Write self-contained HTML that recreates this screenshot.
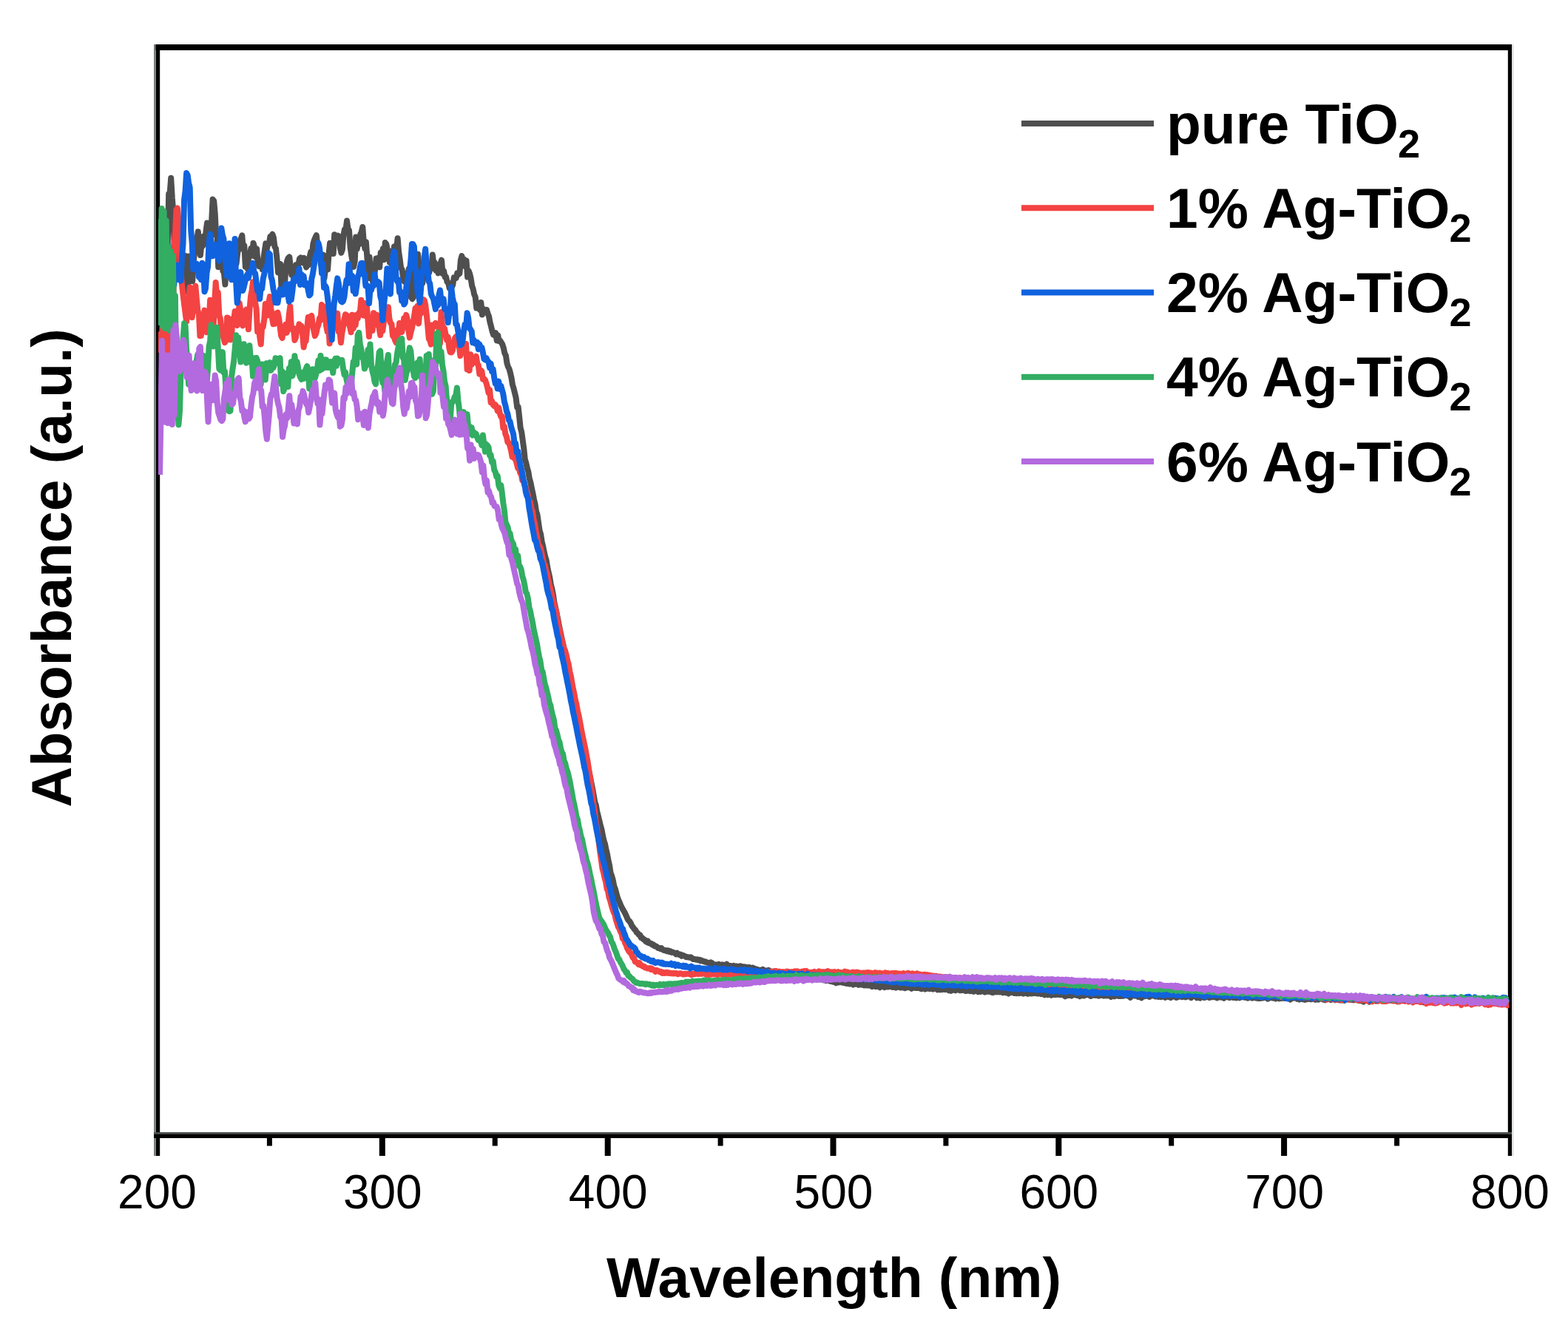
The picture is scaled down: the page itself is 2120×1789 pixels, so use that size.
<!DOCTYPE html>
<html><head><meta charset="utf-8"><title>Absorbance spectra</title>
<style>
html,body{margin:0;padding:0;background:#fff;}
svg{display:block;}
text{font-family:"Liberation Sans",Arial,sans-serif;fill:#000;}
.tl{font-size:64px;}
.tt{font-size:76.7px;font-weight:bold;}
.lg{font-size:76.7px;font-weight:bold;}
.sub{font-size:54px;}
.cv path{fill:none;stroke-width:8;stroke-linejoin:round;stroke-linecap:butt;}
</style></head>
<body>
<svg width="2120" height="1789" viewBox="0 0 2120 1789">
<rect width="2120" height="1789" fill="#fff"/>
<g fill="#000">
<rect x="208" y="60" width="1836" height="8"/>
<rect x="210.6" y="60" width="5.6" height="1503"/>
<rect x="208" y="60" width="2.6" height="1503" fill="#76807f"/>
<rect x="2038.8" y="60" width="5.4" height="1503"/>
<rect x="2044.2" y="60" width="2.4" height="1503" fill="#e2e2e2"/>
<rect x="208" y="1531" width="1836" height="3" fill="#4a4f4b"/>
<rect x="208" y="1533.8" width="1836" height="5.2"/>
<rect x="512.8" y="1534" width="8" height="29"/>
<rect x="817.7" y="1534" width="8" height="29"/>
<rect x="1122.5" y="1534" width="8" height="29"/>
<rect x="1427.3" y="1534" width="8" height="29"/>
<rect x="1732.1" y="1534" width="8" height="29"/>
<rect x="360.9" y="1534" width="7" height="15.5"/>
<rect x="665.7" y="1534" width="7" height="15.5"/>
<rect x="970.6" y="1534" width="7" height="15.5"/>
<rect x="1275.4" y="1534" width="7" height="15.5"/>
<rect x="1580.2" y="1534" width="7" height="15.5"/>
<rect x="1885.1" y="1534" width="7" height="15.5"/>
</g>
<defs><clipPath id="pc"><rect x="214" y="68" width="1826.5" height="1463"/></clipPath></defs>
<g class="cv" clip-path="url(#pc)">
<path d="M216.0,335.0L217.5,332.7L219.0,350.3L220.6,347.6L222.1,341.9L223.6,334.5L225.1,328.4L226.7,328.8L228.2,261.8L229.7,260.9L231.2,240.8L232.8,267.8L234.3,286.0L235.8,338.3L237.3,337.5L238.9,333.5L240.4,350.8L241.9,334.6L243.4,337.9L245.0,334.2L246.5,342.9L248.0,361.4L249.5,351.3L251.1,346.1L252.6,394.1L254.1,382.2L255.6,346.5L257.1,360.8L258.7,362.0L260.2,380.3L261.7,352.8L263.2,340.8L264.8,334.0L266.3,323.8L267.8,313.2L269.3,328.5L270.9,345.0L272.4,330.5L273.9,332.8L275.4,319.6L277.0,328.7L278.5,312.5L280.0,301.5L281.5,331.4L283.1,329.4L284.6,318.5L286.1,299.8L287.6,269.5L289.2,271.7L290.7,288.8L292.2,318.2L293.7,317.2L295.2,361.2L296.8,344.4L298.3,348.9L299.8,338.4L301.3,366.3L302.9,369.1L304.4,384.5L305.9,360.2L307.4,341.6L309.0,349.2L310.5,346.6L312.0,360.3L313.5,358.2L315.1,331.1L316.6,330.8L318.1,342.1L319.6,356.2L321.2,342.1L322.7,335.0L324.2,325.4L325.7,323.1L327.3,318.4L328.8,336.8L330.3,331.8L331.8,360.7L333.3,350.1L334.9,363.5L336.4,343.9L337.9,343.6L339.4,336.0L341.0,345.7L342.5,328.7L344.0,333.8L345.5,347.4L347.1,336.4L348.6,354.8L350.1,359.9L351.6,354.7L353.2,356.7L354.7,364.1L356.2,350.3L357.7,339.7L359.3,329.4L360.8,336.8L362.3,329.2L363.8,329.7L365.4,319.7L366.9,319.1L368.4,316.8L369.9,321.3L371.4,333.6L373.0,336.1L374.5,350.4L376.0,368.4L377.5,361.1L379.1,356.9L380.6,392.0L382.1,380.1L383.6,384.9L385.2,380.9L386.7,359.4L388.2,352.8L389.7,348.9L391.3,347.4L392.8,360.6L394.3,371.8L395.8,366.1L397.4,376.7L398.9,377.2L400.4,357.9L401.9,371.8L403.5,357.2L405.0,349.7L406.5,348.6L408.0,352.5L409.5,355.1L411.1,348.9L412.6,357.0L414.1,361.4L415.6,358.2L417.2,358.1L418.7,347.1L420.2,340.8L421.7,347.0L423.3,330.0L424.8,324.8L426.3,321.3L427.8,318.1L429.4,332.0L430.9,343.4L432.4,345.7L433.9,358.0L435.5,347.8L437.0,344.6L438.5,376.0L440.0,362.7L441.6,347.9L443.1,364.6L444.6,342.8L446.1,328.8L447.6,335.2L449.2,328.8L450.7,343.1L452.2,317.2L453.7,325.3L455.3,318.9L456.8,318.5L458.3,319.7L459.8,335.3L461.4,341.8L462.9,337.4L464.4,318.1L465.9,310.5L467.5,310.7L469.0,298.5L470.5,309.3L472.0,311.3L473.6,334.5L475.1,345.0L476.6,354.1L478.1,360.9L479.7,353.5L481.2,320.4L482.7,336.7L484.2,329.1L485.7,330.2L487.3,316.6L488.8,313.3L490.3,307.0L491.8,327.0L493.4,336.0L494.9,327.3L496.4,348.8L497.9,376.0L499.5,347.5L501.0,368.3L502.5,375.8L504.0,380.9L505.6,377.2L507.1,364.4L508.6,349.6L510.1,351.5L511.7,348.7L513.2,361.4L514.7,341.8L516.2,342.8L517.8,336.4L519.3,351.2L520.8,328.0L522.3,330.1L523.8,337.9L525.4,342.2L526.9,354.9L528.4,339.7L529.9,356.0L531.5,350.4L533.0,333.2L534.5,332.6L536.0,337.8L537.6,322.2L539.1,340.4L540.6,350.3L542.1,362.0L543.7,364.8L545.2,376.2L546.7,380.8L548.2,378.9L549.8,370.9L551.3,370.3L552.8,363.6L554.3,395.5L555.9,402.2L557.4,404.2L558.9,402.2L560.4,363.1L561.9,373.6L563.5,372.1L565.0,343.7L566.5,359.3L568.0,379.0L569.6,373.3L571.1,383.3L572.6,375.0L574.1,363.1L575.7,363.6L577.2,366.9L578.7,365.4L580.2,368.9L581.8,362.0L583.3,363.1L584.8,344.6L586.3,355.8L587.9,355.4L589.4,365.8L590.9,363.7L592.4,369.3L594.0,359.9L595.5,356.4L597.0,351.7L598.5,369.8L600.0,366.2L601.6,374.6L603.1,374.6L604.6,381.5L606.1,382.3L607.7,390.0L609.2,390.3L610.7,388.6L612.2,385.4L613.8,375.2L615.3,376.3L616.8,376.0L618.3,369.2L619.9,371.2L621.4,369.8L622.9,351.7L624.4,346.1L626.0,355.8L627.5,350.6L629.0,360.1L630.5,352.4L632.1,374.6L633.6,366.1L635.1,370.2L636.6,376.3L638.1,386.4L639.7,391.0L641.2,398.2L642.7,401.6L644.2,416.5L645.8,409.6L647.3,416.9L648.8,419.0L650.3,409.0L651.9,425.4L653.4,417.6L654.9,420.9L656.4,422.1L658.0,418.8L659.5,424.0L661.0,427.8L662.5,435.7L664.1,441.8L665.6,448.3L667.1,452.6L668.6,449.8L670.2,450.2L671.7,460.5L673.2,453.3L674.7,461.2L676.2,460.5L677.8,463.1L679.3,465.8L680.8,470.4L682.3,477.5L683.9,480.7L685.4,490.9L686.9,495.9L688.4,498.6L690.0,504.4L691.5,511.0L693.0,520.3L694.5,525.2L696.1,531.7L697.6,537.9L699.1,550.5L700.6,550.0L702.2,564.3L703.7,578.8L705.2,584.3L706.7,595.3L708.3,607.0L709.8,621.3L711.3,626.0L712.8,633.0L714.3,637.8L715.9,647.3L717.4,652.5L718.9,660.2L720.4,667.2L722.0,675.3L723.5,681.7L725.0,691.6L726.5,696.1L728.1,707.2L729.6,717.6L731.1,722.3L732.6,732.2L734.2,738.7L735.7,746.5L737.2,752.9L738.7,757.7L740.3,767.6L741.8,774.5L743.3,780.9L744.8,790.5L746.4,796.6L747.9,804.3L749.4,814.4L750.9,821.1L752.4,828.3L754.0,835.8L755.5,844.0L757.0,851.2L758.5,858.3L760.1,866.0L761.6,872.6L763.1,880.9L764.6,887.9L766.2,895.0L767.7,901.0L769.2,908.6L770.7,916.9L772.3,923.1L773.8,930.7L775.3,935.1L776.8,943.0L778.4,953.2L779.9,959.5L781.4,968.6L782.9,975.2L784.5,982.8L786.0,990.4L787.5,996.7L789.0,1007.2L790.5,1012.7L792.1,1022.1L793.6,1029.1L795.1,1037.1L796.6,1045.4L798.2,1051.7L799.7,1059.9L801.2,1067.1L802.7,1075.5L804.3,1084.7L805.8,1088.9L807.3,1097.5L808.8,1103.2L810.4,1109.9L811.9,1116.5L813.4,1121.5L814.9,1129.7L816.5,1136.8L818.0,1141.2L819.5,1149.0L821.0,1155.0L822.6,1163.9L824.1,1170.2L825.6,1180.6L827.1,1184.3L828.6,1189.5L830.2,1197.8L831.7,1201.8L833.2,1207.3L834.7,1212.8L836.3,1217.2L837.8,1220.5L839.3,1224.2L840.8,1227.2L842.4,1230.3L843.9,1232.8L845.4,1235.5L846.9,1238.8L848.5,1242.6L850.0,1245.0L851.5,1246.1L853.0,1248.8L854.6,1252.4L856.1,1254.0L857.6,1256.6L859.1,1257.5L860.7,1260.7L862.2,1261.8L863.7,1264.0L865.2,1264.0L866.7,1268.0L868.3,1268.1L869.8,1270.1L871.3,1270.4L872.8,1272.7L874.4,1274.0L875.9,1272.6L877.4,1275.3L878.9,1275.8L880.5,1275.7L882.0,1277.7L883.5,1277.3L885.0,1279.4L886.6,1279.3L888.1,1280.2L889.6,1282.0L891.1,1281.7L892.7,1283.1L894.2,1282.1L895.7,1283.7L897.2,1284.9L898.8,1285.2L900.3,1285.1L901.8,1286.2L903.3,1285.3L904.8,1286.9L906.4,1286.2L907.9,1287.9L909.4,1287.5L910.9,1288.1L912.5,1288.9L914.0,1290.3L915.5,1288.8L917.0,1290.1L918.6,1291.2L920.1,1290.6L921.6,1292.7L923.1,1291.7L924.7,1292.5L926.2,1293.0L927.7,1294.3L929.2,1293.9L930.8,1294.5L932.3,1294.8L933.8,1294.2L935.3,1295.4L936.9,1297.0L938.4,1296.7L939.9,1297.2L941.4,1297.7L942.9,1297.3L944.5,1298.5L946.0,1297.9L947.5,1299.4L949.0,1298.8L950.6,1299.8L952.1,1300.4L953.6,1300.3L955.1,1301.4L956.7,1301.5L958.2,1301.9L959.7,1302.9L961.2,1301.4L962.8,1302.3L964.3,1303.9L965.8,1304.1L967.3,1305.1L968.9,1304.3L970.4,1304.8L971.9,1303.8L973.4,1305.3L975.0,1305.0L976.5,1304.3L978.0,1304.8L979.5,1305.3L981.0,1305.6L982.6,1303.7L984.1,1306.3L985.6,1305.8L987.1,1305.9L988.7,1306.4L990.2,1306.5L991.7,1305.8L993.2,1307.1L994.8,1306.5L996.3,1306.4L997.8,1307.4L999.3,1308.0L1000.9,1306.3L1002.4,1306.9L1003.9,1306.9L1005.4,1309.3L1007.0,1307.4L1008.5,1308.4L1010.0,1308.0L1011.5,1308.3L1013.1,1307.9L1014.6,1309.6L1016.1,1309.4L1017.6,1308.5L1019.1,1309.6L1020.7,1309.8L1022.2,1310.5L1023.7,1310.7L1025.2,1311.5L1026.8,1311.7L1028.3,1311.8L1029.8,1312.2L1031.3,1310.9L1032.9,1312.0L1034.4,1313.0L1035.9,1312.5L1037.4,1312.8L1039.0,1311.8L1040.5,1312.5L1042.0,1314.1L1043.5,1313.7L1045.1,1313.7L1046.6,1313.9L1048.1,1313.3L1049.6,1315.1L1051.2,1315.2L1052.7,1315.8L1054.2,1315.0L1055.7,1315.4L1057.2,1315.0L1058.8,1316.8L1060.3,1316.9L1061.8,1315.7L1063.3,1316.9L1064.9,1316.7L1066.4,1316.7L1067.9,1315.8L1069.4,1317.6L1071.0,1318.0L1072.5,1316.9L1074.0,1317.9L1075.5,1316.4L1077.1,1319.9L1078.6,1318.7L1080.1,1319.1L1081.6,1319.0L1083.2,1319.1L1084.7,1319.7L1086.2,1319.7L1087.7,1320.0L1089.3,1320.4L1090.8,1320.8L1092.3,1321.9L1093.8,1320.1L1095.3,1322.0L1096.9,1321.3L1098.4,1321.5L1099.9,1321.1L1101.4,1323.4L1103.0,1322.1L1104.5,1323.0L1106.0,1323.8L1107.5,1323.0L1109.1,1324.2L1110.6,1324.2L1112.1,1325.1L1113.6,1325.3L1115.2,1324.5L1116.7,1326.1L1118.2,1325.4L1119.7,1326.1L1121.3,1326.0L1122.8,1327.0L1124.3,1325.9L1125.8,1327.5L1127.4,1327.9L1128.9,1327.3L1130.4,1329.2L1131.9,1327.2L1133.4,1328.6L1135.0,1328.0L1136.5,1328.3L1138.0,1328.1L1139.5,1328.7L1141.1,1329.0L1142.6,1328.6L1144.1,1329.9L1145.6,1330.1L1147.2,1328.4L1148.7,1330.5L1150.2,1329.7L1151.7,1330.2L1153.3,1331.6L1154.8,1330.6L1156.3,1330.5L1157.8,1330.7L1159.4,1329.4L1160.9,1331.7L1162.4,1330.3L1163.9,1331.5L1165.5,1331.3L1167.0,1332.0L1168.5,1332.6L1170.0,1332.0L1171.5,1332.6L1173.1,1331.7L1174.6,1332.6L1176.1,1332.7L1177.6,1331.5L1179.2,1334.1L1180.7,1331.9L1182.2,1332.4L1183.7,1334.2L1185.3,1334.1L1186.8,1332.5L1188.3,1333.1L1189.8,1335.3L1191.4,1333.0L1192.9,1332.5L1194.4,1333.6L1195.9,1335.0L1197.5,1333.8L1199.0,1334.3L1200.5,1334.6L1202.0,1334.3L1203.6,1333.9L1205.1,1333.4L1206.6,1334.9L1208.1,1333.6L1209.6,1334.7L1211.2,1335.6L1212.7,1334.7L1214.2,1334.8L1215.7,1334.9L1217.3,1335.4L1218.8,1335.5L1220.3,1334.2L1221.8,1335.6L1223.4,1336.2L1224.9,1335.6L1226.4,1334.9L1227.9,1335.3L1229.5,1334.4L1231.0,1335.6L1232.5,1336.8L1234.0,1335.5L1235.6,1335.5L1237.1,1335.8L1238.6,1336.1L1240.1,1336.1L1241.7,1336.1L1243.2,1335.9L1244.7,1336.9L1246.2,1337.3L1247.7,1336.0L1249.3,1336.5L1250.8,1337.5L1252.3,1335.6L1253.8,1336.8L1255.4,1336.7L1256.9,1337.2L1258.4,1336.8L1259.9,1336.7L1261.5,1337.6L1263.0,1336.4L1264.5,1336.5L1266.0,1336.4L1267.6,1338.3L1269.1,1336.2L1270.6,1338.4L1272.1,1338.0L1273.7,1338.3L1275.2,1337.6L1276.7,1337.7L1278.2,1338.2L1279.8,1337.7L1281.3,1337.5L1282.8,1339.3L1284.3,1337.4L1285.8,1339.8L1287.4,1338.4L1288.9,1338.3L1290.4,1339.0L1291.9,1339.4L1293.5,1337.6L1295.0,1338.6L1296.5,1338.3L1298.0,1339.3L1299.6,1339.2L1301.1,1339.1L1302.6,1338.7L1304.1,1339.1L1305.7,1340.2L1307.2,1339.9L1308.7,1339.4L1310.2,1338.7L1311.8,1340.3L1313.3,1339.7L1314.8,1340.0L1316.3,1341.0L1317.9,1340.2L1319.4,1339.3L1320.9,1339.6L1322.4,1341.2L1323.9,1340.0L1325.5,1341.0L1327.0,1340.1L1328.5,1339.9L1330.0,1340.9L1331.6,1341.6L1333.1,1340.6L1334.6,1340.0L1336.1,1340.9L1337.7,1340.6L1339.2,1341.2L1340.7,1341.7L1342.2,1342.3L1343.8,1341.0L1345.3,1341.0L1346.8,1341.5L1348.3,1341.4L1349.9,1341.2L1351.4,1341.6L1352.9,1341.6L1354.4,1340.8L1356.0,1342.3L1357.5,1341.3L1359.0,1341.3L1360.5,1342.4L1362.0,1341.5L1363.6,1343.4L1365.1,1342.0L1366.6,1342.2L1368.1,1341.7L1369.7,1342.2L1371.2,1343.0L1372.7,1341.7L1374.2,1343.2L1375.8,1340.8L1377.3,1343.3L1378.8,1343.0L1380.3,1342.8L1381.9,1342.7L1383.4,1343.6L1384.9,1342.1L1386.4,1342.5L1388.0,1343.3L1389.5,1343.9L1391.0,1343.2L1392.5,1343.1L1394.1,1343.6L1395.6,1343.6L1397.1,1342.5L1398.6,1341.8L1400.1,1343.3L1401.7,1342.6L1403.2,1343.6L1404.7,1342.9L1406.2,1343.4L1407.8,1344.3L1409.3,1343.9L1410.8,1344.0L1412.3,1345.3L1413.9,1343.4L1415.4,1344.1L1416.9,1345.2L1418.4,1343.2L1420.0,1343.5L1421.5,1345.7L1423.0,1344.4L1424.5,1345.1L1426.1,1345.0L1427.6,1345.3L1429.1,1344.2L1430.6,1344.9L1432.2,1344.0L1433.7,1345.3L1435.2,1345.1L1436.7,1344.7L1438.2,1345.7L1439.8,1347.2L1441.3,1343.7L1442.8,1346.3L1444.3,1345.6L1445.9,1346.0L1447.4,1344.5L1448.9,1346.5L1450.4,1345.5L1452.0,1345.3L1453.5,1345.2L1455.0,1345.7L1456.5,1346.1L1458.1,1346.0L1459.6,1347.2L1461.1,1344.9L1462.6,1346.3L1464.2,1345.1L1465.7,1346.5L1467.2,1345.6L1468.7,1345.4L1470.3,1344.9L1471.8,1345.5L1473.3,1346.2L1474.8,1347.0L1476.3,1346.2L1477.9,1345.0L1479.4,1345.9L1480.9,1346.1L1482.4,1345.9L1484.0,1346.2L1485.5,1346.7L1487.0,1346.1L1488.5,1345.6L1490.1,1344.9L1491.6,1346.4L1493.1,1344.9L1494.6,1346.5L1496.2,1346.5L1497.7,1345.2L1499.2,1346.6L1500.7,1346.0L1502.3,1348.0L1503.8,1346.3L1505.3,1345.0L1506.8,1347.3L1508.4,1346.6L1509.9,1346.3L1511.4,1346.3L1512.9,1347.1L1514.4,1347.0L1516.0,1346.9L1517.5,1345.8L1519.0,1346.8L1520.5,1345.5L1522.1,1346.0L1523.6,1346.6L1525.1,1346.0L1526.6,1346.8L1528.2,1348.9L1529.7,1346.7L1531.2,1346.3L1532.7,1345.4L1534.3,1346.7L1535.8,1345.9L1537.3,1345.5L1538.8,1348.0L1540.4,1346.3L1541.9,1347.6L1543.4,1349.3L1544.9,1346.6L1546.5,1347.3L1548.0,1347.3L1549.5,1346.8L1551.0,1346.5L1552.5,1347.1L1554.1,1348.0L1555.6,1346.6L1557.1,1346.2L1558.6,1346.4L1560.2,1346.5L1561.7,1347.4L1563.2,1347.5L1564.7,1347.5L1566.3,1348.1L1567.8,1346.8L1569.3,1348.1L1570.8,1347.3L1572.4,1347.8L1573.9,1345.6L1575.4,1348.8L1576.9,1345.6L1578.5,1346.9L1580.0,1348.1L1581.5,1346.8L1583.0,1349.0L1584.6,1347.0L1586.1,1346.7L1587.6,1347.8L1589.1,1347.0L1590.6,1348.9L1592.2,1348.4L1593.7,1347.8L1595.2,1347.0L1596.7,1347.7L1598.3,1348.3L1599.8,1346.6L1601.3,1347.1L1602.8,1348.4L1604.4,1347.9L1605.9,1347.3L1607.4,1347.5L1608.9,1346.0L1610.5,1349.1L1612.0,1347.1L1613.5,1346.6L1615.0,1347.0L1616.6,1347.1L1618.1,1349.3L1619.6,1347.8L1621.1,1346.5L1622.7,1349.6L1624.2,1348.3L1625.7,1346.7L1627.2,1345.8L1628.7,1349.2L1630.3,1346.8L1631.8,1347.9L1633.3,1347.3L1634.8,1349.0L1636.4,1348.7L1637.9,1348.3L1639.4,1347.6L1640.9,1348.2L1642.5,1348.3L1644.0,1346.4L1645.5,1349.4L1647.0,1347.2L1648.6,1348.4L1650.1,1347.9L1651.6,1348.7L1653.1,1348.6L1654.7,1349.7L1656.2,1347.1L1657.7,1347.4L1659.2,1348.3L1660.8,1347.4L1662.3,1349.0L1663.8,1347.1L1665.3,1348.5L1666.8,1348.9L1668.4,1348.9L1669.9,1348.2L1671.4,1349.5L1672.9,1349.0L1674.5,1346.6L1676.0,1349.2L1677.5,1348.3L1679.0,1348.2L1680.6,1348.0L1682.1,1348.7L1683.6,1348.8L1685.1,1348.7L1686.7,1349.8L1688.2,1349.2L1689.7,1348.0L1691.2,1348.2L1692.8,1349.6L1694.3,1347.8L1695.8,1349.2L1697.3,1349.1L1698.9,1349.7L1700.4,1349.1L1701.9,1350.1L1703.4,1348.1L1704.9,1349.8L1706.5,1348.1L1708.0,1349.5L1709.5,1349.1L1711.0,1348.3L1712.6,1347.0L1714.1,1350.7L1715.6,1349.1L1717.1,1349.4L1718.7,1348.6L1720.2,1349.2L1721.7,1349.8L1723.2,1349.2L1724.8,1350.5L1726.3,1349.2L1727.8,1348.7L1729.3,1350.3L1730.9,1348.7L1732.4,1350.0L1733.9,1347.7L1735.4,1349.8L1737.0,1350.1L1738.5,1348.9L1740.0,1349.9L1741.5,1350.2L1743.0,1349.7L1744.6,1351.5L1746.1,1349.0L1747.6,1349.9L1749.1,1349.7L1750.7,1348.0L1752.2,1349.0L1753.7,1350.8L1755.2,1349.5L1756.8,1351.6L1758.3,1349.5L1759.8,1350.1L1761.3,1351.2L1762.9,1350.1L1764.4,1351.8L1765.9,1348.7L1767.4,1351.2L1769.0,1350.7L1770.5,1350.8L1772.0,1351.4L1773.5,1351.1L1775.1,1350.3L1776.6,1350.0L1778.1,1351.7L1779.6,1350.2L1781.1,1351.6L1782.7,1351.7L1784.2,1350.5L1785.7,1349.8L1787.2,1350.7L1788.8,1351.6L1790.3,1350.3L1791.8,1352.2L1793.3,1350.5L1794.9,1351.1L1796.4,1350.2L1797.9,1351.1L1799.4,1352.1L1801.0,1350.3L1802.5,1350.9L1804.0,1350.3L1805.5,1352.2L1807.1,1349.2L1808.6,1351.1L1810.1,1352.2L1811.6,1352.5L1813.2,1350.7L1814.7,1352.5L1816.2,1348.8L1817.7,1352.9L1819.2,1351.2L1820.8,1350.1L1822.3,1349.9L1823.8,1351.4L1825.3,1351.8L1826.9,1351.9L1828.4,1351.6L1829.9,1352.4L1831.4,1352.2L1833.0,1350.0L1834.5,1351.8L1836.0,1351.1L1837.5,1353.1L1839.1,1350.9L1840.6,1353.2L1842.1,1351.5L1843.6,1354.6L1845.2,1351.1L1846.7,1352.2L1848.2,1351.8L1849.7,1352.2L1851.3,1354.7L1852.8,1350.7L1854.3,1351.5L1855.8,1352.0L1857.3,1352.9L1858.9,1350.8L1860.4,1353.5L1861.9,1352.6L1863.4,1351.8L1865.0,1352.0L1866.5,1351.4L1868.0,1352.2L1869.5,1351.3L1871.1,1354.0L1872.6,1353.6L1874.1,1351.5L1875.6,1352.5L1877.2,1350.1L1878.7,1352.4L1880.2,1352.7L1881.7,1352.6L1883.3,1352.5L1884.8,1353.4L1886.3,1352.2L1887.8,1352.0L1889.4,1354.4L1890.9,1349.6L1892.4,1352.0L1893.9,1351.8L1895.4,1351.8L1897.0,1351.8L1898.5,1352.5L1900.0,1351.7L1901.5,1352.7L1903.1,1353.2L1904.6,1352.4L1906.1,1352.8L1907.6,1351.4L1909.2,1351.6L1910.7,1352.6L1912.2,1353.8L1913.7,1352.8L1915.3,1354.0L1916.8,1353.5L1918.3,1353.8L1919.8,1351.4L1921.4,1354.7L1922.9,1353.1L1924.4,1355.2L1925.9,1352.8L1927.5,1353.2L1929.0,1352.6L1930.5,1353.1L1932.0,1350.7L1933.5,1353.2L1935.1,1352.8L1936.6,1354.2L1938.1,1351.7L1939.6,1353.5L1941.2,1355.1L1942.7,1351.7L1944.2,1354.4L1945.7,1351.9L1947.3,1353.2L1948.8,1353.6L1950.3,1354.0L1951.8,1352.2L1953.4,1352.1L1954.9,1355.3L1956.4,1352.7L1957.9,1354.3L1959.5,1354.0L1961.0,1353.9L1962.5,1352.6L1964.0,1353.2L1965.6,1351.2L1967.1,1354.1L1968.6,1352.4L1970.1,1353.5L1971.6,1355.6L1973.2,1353.5L1974.7,1353.3L1976.2,1351.6L1977.7,1354.8L1979.3,1354.9L1980.8,1351.9L1982.3,1354.4L1983.8,1352.4L1985.4,1353.5L1986.9,1352.9L1988.4,1351.5L1989.9,1353.4L1991.5,1351.4L1993.0,1356.0L1994.5,1354.2L1996.0,1353.4L1997.6,1354.0L1999.1,1353.5L2000.6,1353.9L2002.1,1353.8L2003.7,1353.3L2005.2,1353.5L2006.7,1351.9L2008.2,1352.9L2009.7,1353.1L2011.3,1354.2L2012.8,1353.1L2014.3,1356.5L2015.8,1352.7L2017.4,1353.6L2018.9,1354.4L2020.4,1355.0L2021.9,1356.0L2023.5,1354.5L2025.0,1352.9L2026.5,1353.9L2028.0,1355.3L2029.6,1353.8L2031.1,1355.0L2032.6,1353.5L2034.1,1356.3L2035.7,1355.3L2037.2,1355.1L2038.7,1353.9" stroke="#4f4f4f"/>
<path d="M214.0,455.0L215.5,473.0L217.0,451.8L218.6,467.5L220.1,424.3L221.6,470.3L223.1,424.3L224.7,475.2L226.2,442.5L227.7,478.3L229.2,447.1L230.8,472.8L232.3,440.1L233.8,459.5L235.3,332.1L236.9,317.3L238.4,283.8L239.9,281.5L241.4,300.4L243.0,335.7L244.5,369.9L246.0,385.3L247.5,398.6L249.1,411.8L250.6,423.1L252.1,434.8L253.6,416.8L255.1,404.5L256.7,388.5L258.2,418.7L259.7,429.2L261.2,417.3L262.8,397.1L264.3,386.7L265.8,404.2L267.3,419.8L268.9,424.5L270.4,454.3L271.9,453.9L273.4,433.8L275.0,431.2L276.5,419.6L278.0,440.6L279.5,449.2L281.1,435.2L282.6,435.0L284.1,405.7L285.6,417.4L287.2,431.4L288.7,439.3L290.2,408.1L291.7,382.0L293.2,401.0L294.8,395.4L296.3,426.3L297.8,430.5L299.3,448.9L300.9,451.0L302.4,457.5L303.9,463.2L305.4,461.0L307.0,429.5L308.5,429.8L310.0,437.6L311.5,459.5L313.1,452.8L314.6,431.3L316.1,433.4L317.6,421.0L319.2,438.3L320.7,439.9L322.2,428.0L323.7,410.0L325.3,419.6L326.8,434.2L328.3,440.4L329.8,423.5L331.3,421.6L332.9,418.8L334.4,428.7L335.9,445.3L337.4,419.3L339.0,400.7L340.5,392.9L342.0,381.3L343.5,399.2L345.1,409.1L346.6,417.2L348.1,448.6L349.6,440.5L351.2,455.5L352.7,465.4L354.2,441.0L355.7,442.2L357.3,431.7L358.8,410.9L360.3,419.1L361.8,426.5L363.4,408.8L364.9,401.1L366.4,417.1L367.9,429.8L369.4,438.2L371.0,438.1L372.5,431.6L374.0,423.4L375.5,422.7L377.1,430.4L378.6,442.2L380.1,453.9L381.6,457.1L383.2,445.2L384.7,444.3L386.2,438.8L387.7,449.9L389.3,442.6L390.8,425.5L392.3,414.1L393.8,442.2L395.4,445.9L396.9,444.0L398.4,460.0L399.9,456.6L401.5,444.9L403.0,445.5L404.5,438.3L406.0,442.4L407.5,440.9L409.1,452.0L410.6,469.5L412.1,460.6L413.6,461.2L415.2,444.9L416.7,428.9L418.2,436.7L419.7,428.0L421.3,427.0L422.8,439.3L424.3,447.2L425.8,454.1L427.4,450.8L428.9,443.4L430.4,439.5L431.9,430.5L433.5,433.2L435.0,412.1L436.5,413.8L438.0,426.1L439.6,418.3L441.1,440.8L442.6,448.6L444.1,438.8L445.6,464.6L447.2,450.3L448.7,451.6L450.2,441.4L451.7,439.9L453.3,434.5L454.8,426.7L456.3,423.8L457.8,448.4L459.4,447.5L460.9,463.2L462.4,450.4L463.9,442.1L465.5,431.4L467.0,425.2L468.5,426.0L470.0,431.2L471.6,438.2L473.1,441.7L474.6,449.3L476.1,425.7L477.7,444.3L479.2,439.5L480.7,439.3L482.2,425.7L483.7,430.7L485.3,422.9L486.8,422.7L488.3,405.8L489.8,418.7L491.4,426.4L492.9,409.9L494.4,427.2L495.9,414.2L497.5,434.0L499.0,455.0L500.5,429.3L502.0,447.1L503.6,447.0L505.1,423.2L506.6,439.5L508.1,430.8L509.7,425.8L511.2,436.0L512.7,443.6L514.2,453.1L515.8,436.7L517.3,447.5L518.8,436.4L520.3,426.5L521.8,419.3L523.4,422.2L524.9,415.2L526.4,431.1L527.9,436.6L529.5,438.4L531.0,454.2L532.5,454.8L534.0,459.9L535.6,463.3L537.1,446.4L538.6,451.2L540.1,436.9L541.7,438.9L543.2,449.2L544.7,442.1L546.2,430.3L547.8,437.0L549.3,425.9L550.8,432.5L552.3,446.5L553.9,456.5L555.4,449.4L556.9,444.0L558.4,435.8L559.9,428.6L561.5,417.0L563.0,430.8L564.5,413.7L566.0,437.5L567.6,419.3L569.1,423.9L570.6,420.4L572.1,404.9L573.7,406.0L575.2,411.9L576.7,424.9L578.2,439.7L579.8,458.2L581.3,460.0L582.8,465.7L584.3,439.5L585.9,442.7L587.4,440.3L588.9,436.9L590.4,438.1L592.0,439.8L593.5,443.6L595.0,464.4L596.5,422.0L598.0,441.1L599.6,442.3L601.1,444.5L602.6,452.2L604.1,459.8L605.7,455.8L607.2,469.4L608.7,476.3L610.2,476.6L611.8,474.3L613.3,465.2L614.8,457.9L616.3,455.4L617.9,461.1L619.4,464.7L620.9,469.8L622.4,481.1L624.0,473.8L625.5,473.4L627.0,472.3L628.5,472.3L630.1,465.0L631.6,499.6L633.1,492.0L634.6,501.0L636.1,479.2L637.7,493.3L639.2,486.0L640.7,488.1L642.2,489.8L643.8,481.9L645.3,491.8L646.8,493.9L648.3,505.7L649.9,500.5L651.4,502.1L652.9,512.6L654.4,512.0L656.0,514.0L657.5,518.3L659.0,523.7L660.5,530.8L662.1,527.1L663.6,544.1L665.1,542.1L666.6,547.1L668.2,549.0L669.7,547.2L671.2,549.6L672.7,555.6L674.2,551.3L675.8,559.0L677.3,563.4L678.8,563.2L680.3,578.6L681.9,576.7L683.4,587.2L684.9,590.5L686.4,597.9L688.0,598.9L689.5,603.2L691.0,609.1L692.5,617.6L694.1,615.9L695.6,620.1L697.1,621.4L698.6,626.5L700.2,633.0L701.7,632.8L703.2,639.5L704.7,641.6L706.3,649.8L707.8,651.1L709.3,656.7L710.8,659.3L712.3,664.3L713.9,670.1L715.4,679.1L716.9,679.0L718.4,687.3L720.0,691.6L721.5,702.7L723.0,707.7L724.5,717.6L726.1,725.3L727.6,735.1L729.1,738.0L730.6,740.1L732.2,747.1L733.7,754.8L735.2,762.1L736.7,764.0L738.3,771.4L739.8,775.5L741.3,783.6L742.8,790.7L744.4,796.5L745.9,803.4L747.4,810.6L748.9,815.5L750.4,821.7L752.0,825.9L753.5,836.3L755.0,846.2L756.5,850.5L758.1,860.1L759.6,864.5L761.1,871.0L762.6,876.5L764.2,880.2L765.7,885.8L767.2,892.9L768.7,897.8L770.3,908.2L771.8,913.9L773.3,922.7L774.8,931.1L776.4,938.4L777.9,946.4L779.4,952.3L780.9,961.2L782.5,967.7L784.0,975.4L785.5,983.7L787.0,991.8L788.5,999.1L790.1,1006.7L791.6,1013.5L793.1,1022.3L794.6,1030.0L796.2,1040.5L797.7,1049.5L799.2,1062.8L800.7,1072.8L802.3,1087.1L803.8,1095.7L805.3,1108.8L806.8,1118.9L808.4,1129.2L809.9,1140.9L811.4,1152.9L812.9,1163.2L814.5,1174.6L816.0,1179.9L817.5,1187.1L819.0,1192.4L820.6,1202.1L822.1,1205.3L823.6,1213.7L825.1,1217.9L826.6,1223.8L828.2,1229.1L829.7,1233.4L831.2,1236.5L832.7,1243.4L834.3,1248.1L835.8,1253.2L837.3,1255.6L838.8,1259.7L840.4,1262.3L841.9,1269.3L843.4,1270.1L844.9,1274.6L846.5,1277.8L848.0,1282.2L849.5,1284.9L851.0,1287.3L852.6,1288.7L854.1,1291.0L855.6,1294.9L857.1,1295.8L858.7,1300.4L860.2,1301.1L861.7,1301.7L863.2,1304.0L864.7,1302.3L866.3,1305.2L867.8,1305.6L869.3,1306.8L870.8,1306.7L872.4,1308.5L873.9,1308.9L875.4,1309.5L876.9,1309.3L878.5,1309.1L880.0,1310.9L881.5,1309.8L883.0,1311.5L884.6,1311.5L886.1,1313.8L887.6,1312.0L889.1,1312.3L890.7,1313.4L892.2,1314.4L893.7,1313.9L895.2,1315.9L896.8,1314.8L898.3,1316.0L899.8,1315.7L901.3,1314.8L902.8,1316.0L904.4,1315.2L905.9,1316.2L907.4,1315.7L908.9,1316.5L910.5,1315.8L912.0,1316.5L913.5,1315.9L915.0,1316.3L916.6,1317.3L918.1,1316.4L919.6,1316.3L921.1,1316.5L922.7,1317.1L924.2,1317.6L925.7,1316.7L927.2,1317.3L928.8,1316.8L930.3,1316.8L931.8,1317.2L933.3,1316.8L934.9,1318.2L936.4,1316.8L937.9,1317.5L939.4,1316.6L940.9,1317.0L942.5,1316.2L944.0,1317.1L945.5,1316.3L947.0,1316.8L948.6,1317.0L950.1,1316.0L951.6,1316.3L953.1,1316.6L954.7,1317.9L956.2,1317.2L957.7,1318.3L959.2,1317.4L960.8,1316.8L962.3,1317.7L963.8,1317.0L965.3,1316.5L966.9,1317.5L968.4,1317.4L969.9,1318.2L971.4,1317.8L973.0,1316.6L974.5,1317.2L976.0,1317.9L977.5,1317.6L979.0,1317.4L980.6,1317.6L982.1,1318.2L983.6,1318.0L985.1,1317.2L986.7,1317.5L988.2,1317.7L989.7,1317.2L991.2,1317.6L992.8,1318.7L994.3,1318.2L995.8,1317.6L997.3,1318.0L998.9,1318.7L1000.4,1317.3L1001.9,1317.6L1003.4,1318.5L1005.0,1318.0L1006.5,1317.2L1008.0,1318.3L1009.5,1317.3L1011.1,1317.6L1012.6,1318.6L1014.1,1316.9L1015.6,1316.9L1017.1,1316.3L1018.7,1317.4L1020.2,1316.3L1021.7,1316.9L1023.2,1317.1L1024.8,1316.3L1026.3,1316.6L1027.8,1316.4L1029.3,1314.6L1030.9,1315.6L1032.4,1314.5L1033.9,1315.8L1035.4,1314.7L1037.0,1315.2L1038.5,1314.6L1040.0,1314.2L1041.5,1314.1L1043.1,1314.5L1044.6,1314.3L1046.1,1313.6L1047.6,1313.1L1049.2,1312.9L1050.7,1314.7L1052.2,1314.2L1053.7,1313.6L1055.2,1314.3L1056.8,1314.8L1058.3,1314.1L1059.8,1314.9L1061.3,1314.4L1062.9,1313.8L1064.4,1313.6L1065.9,1314.9L1067.4,1314.2L1069.0,1315.0L1070.5,1314.1L1072.0,1314.8L1073.5,1313.9L1075.1,1313.2L1076.6,1314.4L1078.1,1313.3L1079.6,1314.3L1081.2,1314.2L1082.7,1315.4L1084.2,1313.8L1085.7,1315.3L1087.3,1313.3L1088.8,1315.9L1090.3,1313.0L1091.8,1314.7L1093.3,1315.5L1094.9,1315.2L1096.4,1314.7L1097.9,1314.7L1099.4,1315.1L1101.0,1313.9L1102.5,1315.1L1104.0,1315.5L1105.5,1315.3L1107.1,1313.4L1108.6,1315.6L1110.1,1314.3L1111.6,1314.3L1113.2,1314.3L1114.7,1314.3L1116.2,1314.1L1117.7,1315.7L1119.3,1313.3L1120.8,1315.0L1122.3,1314.3L1123.8,1315.7L1125.4,1314.3L1126.9,1315.0L1128.4,1314.1L1129.9,1315.0L1131.4,1315.3L1133.0,1314.2L1134.5,1315.6L1136.0,1314.9L1137.5,1315.4L1139.1,1315.3L1140.6,1315.6L1142.1,1313.7L1143.6,1316.4L1145.2,1314.2L1146.7,1314.7L1148.2,1315.3L1149.7,1315.5L1151.3,1316.1L1152.8,1314.8L1154.3,1316.6L1155.8,1314.9L1157.4,1316.2L1158.9,1314.7L1160.4,1315.9L1161.9,1315.3L1163.5,1316.1L1165.0,1315.7L1166.5,1315.7L1168.0,1315.4L1169.5,1315.8L1171.1,1315.5L1172.6,1315.1L1174.1,1315.0L1175.6,1315.8L1177.2,1315.5L1178.7,1316.0L1180.2,1316.2L1181.7,1316.3L1183.3,1315.0L1184.8,1316.0L1186.3,1315.5L1187.8,1316.3L1189.4,1315.6L1190.9,1316.6L1192.4,1316.3L1193.9,1316.9L1195.5,1316.8L1197.0,1315.3L1198.5,1316.3L1200.0,1315.7L1201.6,1316.2L1203.1,1316.7L1204.6,1316.3L1206.1,1316.0L1207.6,1316.8L1209.2,1315.8L1210.7,1316.1L1212.2,1315.9L1213.7,1316.9L1215.3,1316.6L1216.8,1316.7L1218.3,1316.8L1219.8,1317.3L1221.4,1316.1L1222.9,1317.4L1224.4,1317.4L1225.9,1316.7L1227.5,1315.9L1229.0,1316.1L1230.5,1317.1L1232.0,1317.3L1233.6,1316.2L1235.1,1317.1L1236.6,1317.2L1238.1,1317.9L1239.7,1316.5L1241.2,1318.1L1242.7,1317.3L1244.2,1317.6L1245.7,1318.3L1247.3,1318.8L1248.8,1317.7L1250.3,1317.8L1251.8,1318.9L1253.4,1318.1L1254.9,1318.5L1256.4,1318.6L1257.9,1318.9L1259.5,1319.9L1261.0,1319.4L1262.5,1319.6L1264.0,1320.1L1265.6,1319.7L1267.1,1320.3L1268.6,1321.4L1270.1,1320.4L1271.7,1320.6L1273.2,1321.0L1274.7,1321.4L1276.2,1321.3L1277.8,1321.2L1279.3,1321.6L1280.8,1321.3L1282.3,1323.2L1283.8,1322.0L1285.4,1322.8L1286.9,1322.0L1288.4,1323.0L1289.9,1321.9L1291.5,1322.3L1293.0,1324.2L1294.5,1323.3L1296.0,1323.0L1297.6,1322.2L1299.1,1324.4L1300.6,1324.2L1302.1,1323.4L1303.7,1324.6L1305.2,1323.3L1306.7,1324.2L1308.2,1324.5L1309.8,1325.0L1311.3,1325.1L1312.8,1326.0L1314.3,1325.3L1315.9,1325.1L1317.4,1326.0L1318.9,1325.8L1320.4,1325.9L1321.9,1326.1L1323.5,1326.2L1325.0,1326.4L1326.5,1324.7L1328.0,1328.0L1329.6,1326.5L1331.1,1327.1L1332.6,1327.2L1334.1,1327.4L1335.7,1326.9L1337.2,1328.6L1338.7,1327.4L1340.2,1328.6L1341.8,1327.4L1343.3,1328.0L1344.8,1328.4L1346.3,1328.6L1347.9,1329.9L1349.4,1327.2L1350.9,1328.3L1352.4,1328.7L1354.0,1328.6L1355.5,1330.1L1357.0,1328.6L1358.5,1328.7L1360.0,1328.5L1361.6,1329.2L1363.1,1328.4L1364.6,1330.1L1366.1,1330.7L1367.7,1328.7L1369.2,1330.3L1370.7,1330.2L1372.2,1329.9L1373.8,1330.0L1375.3,1330.5L1376.8,1331.1L1378.3,1329.9L1379.9,1330.2L1381.4,1330.5L1382.9,1330.1L1384.4,1332.1L1386.0,1330.6L1387.5,1330.9L1389.0,1331.4L1390.5,1330.9L1392.1,1332.1L1393.6,1329.6L1395.1,1331.2L1396.6,1332.2L1398.1,1332.0L1399.7,1331.8L1401.2,1331.9L1402.7,1332.5L1404.2,1331.7L1405.8,1331.9L1407.3,1332.5L1408.8,1331.5L1410.3,1332.1L1411.9,1333.6L1413.4,1333.0L1414.9,1332.9L1416.4,1332.5L1418.0,1333.7L1419.5,1333.4L1421.0,1332.8L1422.5,1333.4L1424.1,1333.6L1425.6,1331.7L1427.1,1333.8L1428.6,1332.4L1430.2,1333.3L1431.7,1334.0L1433.2,1334.0L1434.7,1333.0L1436.2,1334.4L1437.8,1333.8L1439.3,1335.2L1440.8,1334.0L1442.3,1333.8L1443.9,1334.7L1445.4,1335.2L1446.9,1334.0L1448.4,1334.6L1450.0,1335.1L1451.5,1333.8L1453.0,1335.6L1454.5,1333.6L1456.1,1335.6L1457.6,1334.4L1459.1,1335.2L1460.6,1334.0L1462.2,1335.2L1463.7,1334.6L1465.2,1334.7L1466.7,1334.2L1468.3,1335.7L1469.8,1335.0L1471.3,1334.5L1472.8,1335.4L1474.3,1335.5L1475.9,1335.8L1477.4,1336.4L1478.9,1335.2L1480.4,1335.5L1482.0,1335.4L1483.5,1337.1L1485.0,1334.9L1486.5,1335.0L1488.1,1335.7L1489.6,1335.6L1491.1,1335.8L1492.6,1337.8L1494.2,1336.6L1495.7,1335.8L1497.2,1337.4L1498.7,1336.2L1500.3,1337.4L1501.8,1338.2L1503.3,1336.6L1504.8,1336.8L1506.4,1337.9L1507.9,1337.0L1509.4,1336.5L1510.9,1337.1L1512.4,1337.2L1514.0,1337.8L1515.5,1337.8L1517.0,1337.8L1518.5,1338.0L1520.1,1335.1L1521.6,1337.4L1523.1,1338.6L1524.6,1337.5L1526.2,1336.8L1527.7,1337.4L1529.2,1338.4L1530.7,1337.6L1532.3,1339.5L1533.8,1336.3L1535.3,1337.6L1536.8,1339.3L1538.4,1339.3L1539.9,1338.5L1541.4,1338.2L1542.9,1337.8L1544.5,1337.9L1546.0,1338.8L1547.5,1338.3L1549.0,1338.9L1550.5,1340.4L1552.1,1338.2L1553.6,1339.3L1555.1,1340.3L1556.6,1338.0L1558.2,1339.9L1559.7,1338.1L1561.2,1338.3L1562.7,1341.8L1564.3,1338.3L1565.8,1339.9L1567.3,1338.1L1568.8,1340.3L1570.4,1339.6L1571.9,1339.2L1573.4,1340.4L1574.9,1339.5L1576.5,1339.9L1578.0,1339.9L1579.5,1339.8L1581.0,1338.3L1582.6,1341.2L1584.1,1340.4L1585.6,1339.2L1587.1,1340.5L1588.6,1338.2L1590.2,1341.8L1591.7,1340.6L1593.2,1339.8L1594.7,1341.1L1596.3,1341.6L1597.8,1339.8L1599.3,1339.9L1600.8,1340.5L1602.4,1341.8L1603.9,1341.3L1605.4,1340.7L1606.9,1340.5L1608.5,1342.0L1610.0,1339.6L1611.5,1341.4L1613.0,1340.6L1614.6,1342.3L1616.1,1341.8L1617.6,1340.3L1619.1,1343.0L1620.7,1342.1L1622.2,1341.6L1623.7,1341.8L1625.2,1341.9L1626.7,1342.2L1628.3,1342.3L1629.8,1340.7L1631.3,1344.7L1632.8,1341.6L1634.4,1342.1L1635.9,1342.5L1637.4,1343.0L1638.9,1342.3L1640.5,1341.6L1642.0,1342.5L1643.5,1343.6L1645.0,1341.4L1646.6,1342.2L1648.1,1342.2L1649.6,1343.3L1651.1,1343.1L1652.7,1341.5L1654.2,1342.9L1655.7,1344.2L1657.2,1343.1L1658.8,1343.4L1660.3,1342.8L1661.8,1341.7L1663.3,1344.0L1664.8,1342.2L1666.4,1341.9L1667.9,1346.2L1669.4,1343.8L1670.9,1344.4L1672.5,1344.1L1674.0,1343.3L1675.5,1342.7L1677.0,1344.6L1678.6,1344.9L1680.1,1344.2L1681.6,1343.3L1683.1,1343.5L1684.7,1343.8L1686.2,1344.3L1687.7,1344.1L1689.2,1344.8L1690.8,1343.9L1692.3,1344.8L1693.8,1344.9L1695.3,1344.3L1696.9,1344.7L1698.4,1345.4L1699.9,1343.4L1701.4,1344.8L1702.9,1346.1L1704.5,1344.2L1706.0,1344.5L1707.5,1343.6L1709.0,1345.1L1710.6,1345.2L1712.1,1345.5L1713.6,1345.8L1715.1,1345.7L1716.7,1344.7L1718.2,1345.8L1719.7,1346.2L1721.2,1346.0L1722.8,1346.7L1724.3,1347.1L1725.8,1346.3L1727.3,1347.2L1728.9,1346.1L1730.4,1347.2L1731.9,1345.4L1733.4,1348.4L1735.0,1346.5L1736.5,1346.4L1738.0,1344.6L1739.5,1347.4L1741.0,1346.4L1742.6,1346.5L1744.1,1346.0L1745.6,1347.3L1747.1,1346.5L1748.7,1348.0L1750.2,1347.4L1751.7,1347.4L1753.2,1347.6L1754.8,1348.0L1756.3,1348.1L1757.8,1348.7L1759.3,1347.6L1760.9,1347.8L1762.4,1349.0L1763.9,1347.1L1765.4,1348.3L1767.0,1348.4L1768.5,1349.2L1770.0,1348.9L1771.5,1347.7L1773.1,1348.4L1774.6,1346.2L1776.1,1350.0L1777.6,1347.6L1779.1,1349.0L1780.7,1347.7L1782.2,1348.0L1783.7,1348.5L1785.2,1348.8L1786.8,1350.2L1788.3,1349.3L1789.8,1348.8L1791.3,1350.5L1792.9,1349.2L1794.4,1351.5L1795.9,1350.4L1797.4,1349.5L1799.0,1348.1L1800.5,1350.6L1802.0,1347.9L1803.5,1351.3L1805.1,1349.0L1806.6,1351.9L1808.1,1349.8L1809.6,1350.3L1811.2,1351.3L1812.7,1349.6L1814.2,1352.2L1815.7,1351.1L1817.2,1350.9L1818.8,1349.9L1820.3,1350.5L1821.8,1351.4L1823.3,1351.9L1824.9,1350.7L1826.4,1351.4L1827.9,1349.6L1829.4,1350.2L1831.0,1350.2L1832.5,1351.4L1834.0,1352.4L1835.5,1352.6L1837.1,1352.3L1838.6,1352.1L1840.1,1350.6L1841.6,1352.6L1843.2,1352.5L1844.7,1350.9L1846.2,1351.9L1847.7,1353.2L1849.3,1352.2L1850.8,1353.7L1852.3,1350.8L1853.8,1351.1L1855.3,1354.4L1856.9,1353.3L1858.4,1352.7L1859.9,1352.1L1861.4,1351.8L1863.0,1353.8L1864.5,1351.8L1866.0,1351.7L1867.5,1352.8L1869.1,1354.0L1870.6,1352.9L1872.1,1350.9L1873.6,1354.2L1875.2,1353.3L1876.7,1353.4L1878.2,1351.1L1879.7,1352.4L1881.3,1352.1L1882.8,1353.5L1884.3,1353.0L1885.8,1353.2L1887.4,1351.5L1888.9,1353.9L1890.4,1353.8L1891.9,1354.4L1893.4,1353.6L1895.0,1352.7L1896.5,1353.4L1898.0,1353.1L1899.5,1353.9L1901.1,1353.4L1902.6,1352.4L1904.1,1354.6L1905.6,1354.2L1907.2,1352.2L1908.7,1353.0L1910.2,1355.5L1911.7,1353.3L1913.3,1353.7L1914.8,1352.6L1916.3,1353.6L1917.8,1354.2L1919.4,1351.2L1920.9,1355.2L1922.4,1354.5L1923.9,1353.5L1925.5,1353.3L1927.0,1353.0L1928.5,1357.0L1930.0,1354.2L1931.5,1353.2L1933.1,1355.8L1934.6,1354.3L1936.1,1353.7L1937.6,1356.0L1939.2,1353.6L1940.7,1356.7L1942.2,1354.7L1943.7,1355.9L1945.3,1354.7L1946.8,1352.9L1948.3,1354.6L1949.8,1354.0L1951.4,1355.6L1952.9,1356.6L1954.4,1354.9L1955.9,1356.0L1957.5,1354.3L1959.0,1355.1L1960.5,1354.7L1962.0,1356.6L1963.6,1352.0L1965.1,1356.7L1966.6,1355.7L1968.1,1356.4L1969.6,1356.4L1971.2,1355.0L1972.7,1355.2L1974.2,1354.1L1975.7,1359.1L1977.3,1356.3L1978.8,1355.1L1980.3,1355.3L1981.8,1357.4L1983.4,1355.4L1984.9,1356.7L1986.4,1354.1L1987.9,1354.9L1989.5,1358.5L1991.0,1353.4L1992.5,1357.6L1994.0,1356.7L1995.6,1357.0L1997.1,1356.4L1998.6,1354.0L2000.1,1357.0L2001.7,1355.9L2003.2,1355.6L2004.7,1354.9L2006.2,1356.8L2007.7,1358.2L2009.3,1355.6L2010.8,1356.7L2012.3,1359.0L2013.8,1355.1L2015.4,1358.3L2016.9,1354.7L2018.4,1355.9L2019.9,1357.1L2021.5,1357.0L2023.0,1357.2L2024.5,1355.6L2026.0,1358.1L2027.6,1358.3L2029.1,1354.7L2030.6,1358.5L2032.1,1356.8L2033.7,1358.5L2035.2,1357.8L2036.7,1358.0L2038.2,1359.3L2039.8,1357.4" stroke="#f34343"/>
<path d="M214.0,316.0L215.5,330.5L217.0,336.3L218.6,333.0L220.1,346.9L221.6,344.5L223.1,350.7L224.7,345.1L226.2,347.6L227.7,332.7L229.2,357.9L230.8,356.2L232.3,358.7L233.8,377.6L235.3,385.3L236.9,367.0L238.4,378.1L239.9,358.4L241.4,367.4L243.0,370.5L244.5,379.6L246.0,347.6L247.5,330.1L249.1,269.7L250.6,258.4L252.1,234.1L253.6,236.5L255.1,247.4L256.7,253.5L258.2,311.7L259.7,328.7L261.2,364.1L262.8,358.3L264.3,361.7L265.8,356.5L267.3,360.1L268.9,374.7L270.4,375.2L271.9,378.2L273.4,355.7L275.0,361.1L276.5,394.4L278.0,389.9L279.5,369.0L281.1,360.5L282.6,327.0L284.1,316.5L285.6,325.8L287.2,346.2L288.7,345.7L290.2,330.9L291.7,330.8L293.2,332.3L294.8,349.1L296.3,352.9L297.8,336.7L299.3,308.5L300.9,317.9L302.4,322.9L303.9,338.9L305.4,358.4L307.0,373.3L308.5,353.2L310.0,329.2L311.5,360.9L313.1,378.2L314.6,365.4L316.1,343.6L317.6,323.0L319.2,382.2L320.7,409.6L322.2,395.9L323.7,372.2L325.3,367.9L326.8,380.2L328.3,393.0L329.8,387.7L331.3,381.3L332.9,374.9L334.4,371.0L335.9,376.0L337.4,367.8L339.0,366.0L340.5,363.8L342.0,355.8L343.5,368.4L345.1,369.8L346.6,381.4L348.1,393.2L349.6,388.7L351.2,404.1L352.7,388.9L354.2,390.6L355.7,377.1L357.3,370.5L358.8,363.7L360.3,361.3L361.8,356.4L363.4,342.3L364.9,344.1L366.4,374.0L367.9,379.1L369.4,390.6L371.0,397.1L372.5,409.2L374.0,398.0L375.5,409.4L377.1,398.7L378.6,391.3L380.1,393.7L381.6,398.5L383.2,398.1L384.7,394.6L386.2,384.5L387.7,384.3L389.3,398.6L390.8,407.8L392.3,384.3L393.8,405.3L395.4,393.4L396.9,377.5L398.4,381.2L399.9,377.9L401.5,373.6L403.0,371.9L404.5,363.2L406.0,384.9L407.5,371.0L409.1,380.1L410.6,373.2L412.1,385.5L413.6,385.4L415.2,383.3L416.7,392.6L418.2,399.5L419.7,398.0L421.3,376.9L422.8,371.0L424.3,360.9L425.8,351.4L427.4,344.3L428.9,345.8L430.4,328.4L431.9,334.7L433.5,347.7L435.0,369.6L436.5,356.9L438.0,388.9L439.6,386.3L441.1,389.0L442.6,399.7L444.1,412.6L445.6,425.8L447.2,439.9L448.7,459.4L450.2,429.8L451.7,410.8L453.3,399.7L454.8,387.0L456.3,376.4L457.8,383.2L459.4,396.1L460.9,407.2L462.4,408.4L463.9,407.3L465.5,401.4L467.0,388.0L468.5,378.7L470.0,383.3L471.6,357.2L473.1,367.8L474.6,379.4L476.1,372.8L477.7,393.5L479.2,383.5L480.7,397.2L482.2,386.9L483.7,374.7L485.3,370.3L486.8,361.4L488.3,355.9L489.8,355.8L491.4,371.0L492.9,370.5L494.4,386.4L495.9,385.7L497.5,387.6L499.0,410.2L500.5,391.4L502.0,392.4L503.6,385.8L505.1,386.5L506.6,370.8L508.1,382.6L509.7,383.8L511.2,381.0L512.7,382.4L514.2,400.5L515.8,406.7L517.3,433.0L518.8,414.2L520.3,400.3L521.8,390.7L523.4,363.3L524.9,375.9L526.4,392.6L527.9,397.5L529.5,361.8L531.0,349.8L532.5,340.0L534.0,341.3L535.6,376.1L537.1,380.4L538.6,378.1L540.1,395.1L541.7,394.3L543.2,406.8L544.7,404.0L546.2,411.6L547.8,409.3L549.3,387.9L550.8,381.6L552.3,371.5L553.9,365.6L555.4,352.2L556.9,329.9L558.4,330.0L559.9,333.4L561.5,362.8L563.0,369.0L564.5,396.0L566.0,399.9L567.6,409.0L569.1,390.7L570.6,366.7L572.1,369.0L573.7,347.5L575.2,336.8L576.7,357.8L578.2,366.1L579.8,380.6L581.3,383.6L582.8,397.2L584.3,401.0L585.9,403.6L587.4,411.0L588.9,418.2L590.4,410.3L592.0,413.1L593.5,398.6L595.0,392.5L596.5,406.3L598.0,409.9L599.6,404.0L601.1,417.7L602.6,419.3L604.1,418.3L605.7,436.1L607.2,425.7L608.7,424.1L610.2,388.4L611.8,402.0L613.3,409.3L614.8,411.3L616.3,438.2L617.9,439.0L619.4,448.5L620.9,457.9L622.4,466.8L624.0,465.7L625.5,461.2L627.0,447.9L628.5,438.8L630.1,442.7L631.6,423.3L633.1,429.6L634.6,443.4L636.1,445.3L637.7,448.0L639.2,463.3L640.7,459.6L642.2,464.5L643.8,465.1L645.3,462.9L646.8,472.2L648.3,465.5L649.9,469.9L651.4,470.0L652.9,476.6L654.4,485.3L656.0,486.5L657.5,484.1L659.0,487.7L660.5,489.2L662.1,497.2L663.6,491.6L665.1,502.2L666.6,499.0L668.2,510.7L669.7,518.6L671.2,517.8L672.7,525.5L674.2,515.6L675.8,526.0L677.3,521.7L678.8,527.3L680.3,532.6L681.9,543.3L683.4,548.3L684.9,556.1L686.4,559.8L688.0,568.2L689.5,569.9L691.0,576.8L692.5,581.9L694.1,586.9L695.6,599.4L697.1,599.6L698.6,611.6L700.2,610.2L701.7,619.6L703.2,627.3L704.7,633.5L706.3,640.5L707.8,649.6L709.3,653.9L710.8,664.9L712.3,670.4L713.9,674.0L715.4,686.8L716.9,695.1L718.4,705.0L720.0,714.0L721.5,721.6L723.0,730.4L724.5,731.4L726.1,738.9L727.6,744.4L729.1,746.5L730.6,755.5L732.2,758.9L733.7,764.1L735.2,772.3L736.7,779.8L738.3,787.7L739.8,796.9L741.3,803.0L742.8,807.3L744.4,814.0L745.9,823.0L747.4,825.8L748.9,835.9L750.4,843.6L752.0,850.9L753.5,859.1L755.0,864.1L756.5,875.3L758.1,877.0L759.6,886.0L761.1,892.4L762.6,899.1L764.2,908.4L765.7,915.4L767.2,923.1L768.7,930.1L770.3,938.4L771.8,947.4L773.3,954.0L774.8,962.7L776.4,969.9L777.9,977.3L779.4,984.5L780.9,992.6L782.5,1000.1L784.0,1008.1L785.5,1014.6L787.0,1021.3L788.5,1028.9L790.1,1037.7L791.6,1043.4L793.1,1052.9L794.6,1061.8L796.2,1068.3L797.7,1076.4L799.2,1085.9L800.7,1090.1L802.3,1100.9L803.8,1107.1L805.3,1115.0L806.8,1123.5L808.4,1131.2L809.9,1138.3L811.4,1145.5L812.9,1152.9L814.5,1158.8L816.0,1165.3L817.5,1170.2L819.0,1177.8L820.6,1184.5L822.1,1190.1L823.6,1197.3L825.1,1201.4L826.6,1209.1L828.2,1214.3L829.7,1221.7L831.2,1225.7L832.7,1231.7L834.3,1236.5L835.8,1241.9L837.3,1245.0L838.8,1249.3L840.4,1254.9L841.9,1255.7L843.4,1260.9L844.9,1263.8L846.5,1269.4L848.0,1271.0L849.5,1273.5L851.0,1275.9L852.6,1278.4L854.1,1279.0L855.6,1280.6L857.1,1281.1L858.7,1282.6L860.2,1286.9L861.7,1288.0L863.2,1290.7L864.7,1291.8L866.3,1292.4L867.8,1294.2L869.3,1294.9L870.8,1294.1L872.4,1296.3L873.9,1296.7L875.4,1296.3L876.9,1298.2L878.5,1298.2L880.0,1299.9L881.5,1300.3L883.0,1299.1L884.6,1301.4L886.1,1302.0L887.6,1301.5L889.1,1301.0L890.7,1301.7L892.2,1301.4L893.7,1302.6L895.2,1301.6L896.8,1303.6L898.3,1303.0L899.8,1303.9L901.3,1303.5L902.8,1303.8L904.4,1303.9L905.9,1304.0L907.4,1302.8L908.9,1304.8L910.5,1303.8L912.0,1303.5L913.5,1306.1L915.0,1304.7L916.6,1304.6L918.1,1306.0L919.6,1305.9L921.1,1306.1L922.7,1307.1L924.2,1305.7L925.7,1307.5L927.2,1306.2L928.8,1307.8L930.3,1307.7L931.8,1307.4L933.3,1309.5L934.9,1306.7L936.4,1308.1L937.9,1308.5L939.4,1308.5L940.9,1309.8L942.5,1308.6L944.0,1310.1L945.5,1308.7L947.0,1309.9L948.6,1309.7L950.1,1309.5L951.6,1309.9L953.1,1309.7L954.7,1310.8L956.2,1310.7L957.7,1309.3L959.2,1310.3L960.8,1310.5L962.3,1310.2L963.8,1311.1L965.3,1311.3L966.9,1308.8L968.4,1310.4L969.9,1311.1L971.4,1310.5L973.0,1310.1L974.5,1310.6L976.0,1310.7L977.5,1311.6L979.0,1310.0L980.6,1311.2L982.1,1311.6L983.6,1311.3L985.1,1310.9L986.7,1311.0L988.2,1310.2L989.7,1310.6L991.2,1311.0L992.8,1311.9L994.3,1311.7L995.8,1312.2L997.3,1311.9L998.9,1312.0L1000.4,1311.7L1001.9,1311.3L1003.4,1312.7L1005.0,1311.5L1006.5,1311.1L1008.0,1312.6L1009.5,1312.2L1011.1,1313.8L1012.6,1312.0L1014.1,1313.1L1015.6,1312.2L1017.1,1313.7L1018.7,1313.2L1020.2,1313.0L1021.7,1313.8L1023.2,1312.9L1024.8,1314.4L1026.3,1313.6L1027.8,1314.5L1029.3,1313.7L1030.9,1314.3L1032.4,1314.7L1033.9,1315.3L1035.4,1314.9L1037.0,1313.8L1038.5,1316.1L1040.0,1315.2L1041.5,1316.1L1043.1,1316.3L1044.6,1316.3L1046.1,1315.5L1047.6,1316.1L1049.2,1316.5L1050.7,1316.7L1052.2,1315.8L1053.7,1316.2L1055.2,1316.0L1056.8,1316.9L1058.3,1316.1L1059.8,1318.2L1061.3,1316.8L1062.9,1317.5L1064.4,1317.0L1065.9,1316.6L1067.4,1315.7L1069.0,1318.3L1070.5,1317.0L1072.0,1316.3L1073.5,1319.2L1075.1,1317.3L1076.6,1318.4L1078.1,1317.1L1079.6,1316.7L1081.2,1317.5L1082.7,1318.3L1084.2,1316.5L1085.7,1318.0L1087.3,1318.6L1088.8,1318.5L1090.3,1318.0L1091.8,1316.8L1093.3,1318.5L1094.9,1319.0L1096.4,1318.7L1097.9,1318.2L1099.4,1318.8L1101.0,1318.8L1102.5,1318.4L1104.0,1318.4L1105.5,1318.5L1107.1,1318.5L1108.6,1319.0L1110.1,1319.0L1111.6,1319.4L1113.2,1319.4L1114.7,1319.1L1116.2,1318.2L1117.7,1320.1L1119.3,1318.8L1120.8,1320.7L1122.3,1319.1L1123.8,1321.1L1125.4,1319.7L1126.9,1320.8L1128.4,1319.7L1129.9,1320.3L1131.4,1319.7L1133.0,1320.0L1134.5,1320.1L1136.0,1321.0L1137.5,1319.9L1139.1,1321.6L1140.6,1320.5L1142.1,1321.5L1143.6,1320.5L1145.2,1321.6L1146.7,1320.5L1148.2,1321.6L1149.7,1321.7L1151.3,1321.4L1152.8,1322.1L1154.3,1322.3L1155.8,1322.4L1157.4,1321.3L1158.9,1322.8L1160.4,1322.6L1161.9,1322.5L1163.5,1322.7L1165.0,1324.4L1166.5,1323.5L1168.0,1324.1L1169.5,1324.2L1171.1,1323.1L1172.6,1324.0L1174.1,1323.1L1175.6,1324.7L1177.2,1323.2L1178.7,1324.5L1180.2,1325.1L1181.7,1325.0L1183.3,1324.4L1184.8,1324.8L1186.3,1326.1L1187.8,1325.4L1189.4,1325.3L1190.9,1325.9L1192.4,1325.9L1193.9,1325.4L1195.5,1326.0L1197.0,1325.1L1198.5,1326.9L1200.0,1326.5L1201.6,1327.3L1203.1,1327.3L1204.6,1326.6L1206.1,1328.2L1207.6,1326.6L1209.2,1328.2L1210.7,1327.1L1212.2,1327.5L1213.7,1327.2L1215.3,1328.2L1216.8,1329.4L1218.3,1328.0L1219.8,1328.8L1221.4,1328.3L1222.9,1329.1L1224.4,1329.1L1225.9,1329.2L1227.5,1329.9L1229.0,1329.1L1230.5,1329.8L1232.0,1330.4L1233.6,1329.9L1235.1,1329.4L1236.6,1330.9L1238.1,1330.2L1239.7,1329.6L1241.2,1329.9L1242.7,1330.1L1244.2,1330.8L1245.7,1330.4L1247.3,1331.0L1248.8,1331.8L1250.3,1331.2L1251.8,1330.5L1253.4,1330.3L1254.9,1331.7L1256.4,1330.1L1257.9,1330.6L1259.5,1330.9L1261.0,1331.1L1262.5,1330.8L1264.0,1331.3L1265.6,1329.5L1267.1,1331.5L1268.6,1331.2L1270.1,1331.8L1271.7,1331.5L1273.2,1331.3L1274.7,1333.0L1276.2,1331.7L1277.8,1332.0L1279.3,1331.8L1280.8,1332.0L1282.3,1331.2L1283.8,1331.4L1285.4,1332.2L1286.9,1330.9L1288.4,1332.7L1289.9,1331.6L1291.5,1332.7L1293.0,1332.1L1294.5,1331.8L1296.0,1332.0L1297.6,1332.2L1299.1,1333.3L1300.6,1333.1L1302.1,1332.3L1303.7,1332.8L1305.2,1332.1L1306.7,1333.8L1308.2,1332.6L1309.8,1332.5L1311.3,1332.2L1312.8,1333.5L1314.3,1334.0L1315.9,1332.8L1317.4,1332.7L1318.9,1332.8L1320.4,1333.0L1321.9,1332.0L1323.5,1334.3L1325.0,1332.8L1326.5,1332.5L1328.0,1332.0L1329.6,1334.3L1331.1,1333.6L1332.6,1334.6L1334.1,1334.1L1335.7,1333.5L1337.2,1332.9L1338.7,1334.4L1340.2,1333.5L1341.8,1334.3L1343.3,1333.1L1344.8,1334.4L1346.3,1334.2L1347.9,1333.7L1349.4,1333.7L1350.9,1333.5L1352.4,1335.2L1354.0,1335.5L1355.5,1334.7L1357.0,1333.5L1358.5,1335.6L1360.0,1334.0L1361.6,1335.9L1363.1,1336.4L1364.6,1335.5L1366.1,1334.0L1367.7,1336.9L1369.2,1335.7L1370.7,1337.2L1372.2,1336.0L1373.8,1336.6L1375.3,1334.9L1376.8,1337.6L1378.3,1335.2L1379.9,1335.5L1381.4,1337.2L1382.9,1337.0L1384.4,1337.6L1386.0,1337.4L1387.5,1337.1L1389.0,1337.3L1390.5,1337.7L1392.1,1337.3L1393.6,1337.6L1395.1,1336.0L1396.6,1337.9L1398.1,1337.3L1399.7,1338.2L1401.2,1337.2L1402.7,1338.8L1404.2,1338.3L1405.8,1337.3L1407.3,1338.5L1408.8,1338.6L1410.3,1337.6L1411.9,1337.1L1413.4,1338.8L1414.9,1338.8L1416.4,1338.8L1418.0,1339.6L1419.5,1338.9L1421.0,1340.2L1422.5,1338.4L1424.1,1340.6L1425.6,1338.7L1427.1,1340.0L1428.6,1338.1L1430.2,1339.5L1431.7,1340.6L1433.2,1339.6L1434.7,1340.0L1436.2,1339.2L1437.8,1340.9L1439.3,1339.2L1440.8,1341.5L1442.3,1340.3L1443.9,1339.9L1445.4,1339.9L1446.9,1340.2L1448.4,1340.9L1450.0,1340.7L1451.5,1339.5L1453.0,1341.3L1454.5,1339.8L1456.1,1342.4L1457.6,1339.1L1459.1,1342.2L1460.6,1339.8L1462.2,1341.7L1463.7,1341.8L1465.2,1341.4L1466.7,1340.4L1468.3,1340.5L1469.8,1342.7L1471.3,1340.5L1472.8,1342.4L1474.3,1342.2L1475.9,1340.3L1477.4,1343.6L1478.9,1341.2L1480.4,1341.9L1482.0,1341.2L1483.5,1342.4L1485.0,1342.3L1486.5,1342.8L1488.1,1342.7L1489.6,1342.8L1491.1,1342.1L1492.6,1342.4L1494.2,1342.5L1495.7,1342.6L1497.2,1343.5L1498.7,1343.0L1500.3,1342.5L1501.8,1342.2L1503.3,1341.6L1504.8,1343.1L1506.4,1342.9L1507.9,1341.7L1509.4,1343.2L1510.9,1343.3L1512.4,1343.3L1514.0,1342.2L1515.5,1343.2L1517.0,1342.4L1518.5,1344.4L1520.1,1343.5L1521.6,1345.6L1523.1,1342.6L1524.6,1345.2L1526.2,1343.4L1527.7,1344.0L1529.2,1344.7L1530.7,1342.3L1532.3,1343.6L1533.8,1345.3L1535.3,1344.4L1536.8,1345.4L1538.4,1344.2L1539.9,1343.8L1541.4,1344.9L1542.9,1343.6L1544.5,1344.3L1546.0,1344.1L1547.5,1343.6L1549.0,1346.1L1550.5,1344.3L1552.1,1344.4L1553.6,1344.6L1555.1,1343.9L1556.6,1344.3L1558.2,1344.6L1559.7,1344.7L1561.2,1342.7L1562.7,1346.0L1564.3,1342.5L1565.8,1344.4L1567.3,1343.5L1568.8,1345.0L1570.4,1343.1L1571.9,1345.8L1573.4,1344.8L1574.9,1345.3L1576.5,1345.1L1578.0,1344.3L1579.5,1345.1L1581.0,1343.9L1582.6,1344.7L1584.1,1345.2L1585.6,1343.7L1587.1,1345.0L1588.6,1344.5L1590.2,1345.7L1591.7,1345.1L1593.2,1344.6L1594.7,1345.7L1596.3,1346.3L1597.8,1345.5L1599.3,1345.0L1600.8,1345.2L1602.4,1344.3L1603.9,1344.9L1605.4,1345.4L1606.9,1345.4L1608.5,1344.0L1610.0,1344.6L1611.5,1344.5L1613.0,1344.6L1614.6,1345.0L1616.1,1345.3L1617.6,1344.4L1619.1,1345.1L1620.7,1343.9L1622.2,1345.7L1623.7,1345.5L1625.2,1345.0L1626.7,1344.4L1628.3,1347.7L1629.8,1344.2L1631.3,1346.3L1632.8,1343.6L1634.4,1345.6L1635.9,1345.7L1637.4,1345.5L1638.9,1345.8L1640.5,1345.7L1642.0,1345.1L1643.5,1345.2L1645.0,1345.7L1646.6,1345.2L1648.1,1345.5L1649.6,1346.2L1651.1,1345.9L1652.7,1345.5L1654.2,1346.9L1655.7,1345.5L1657.2,1345.8L1658.8,1346.6L1660.3,1346.0L1661.8,1344.7L1663.3,1346.8L1664.8,1344.5L1666.4,1346.3L1667.9,1346.3L1669.4,1346.6L1670.9,1345.3L1672.5,1346.2L1674.0,1346.9L1675.5,1347.8L1677.0,1347.5L1678.6,1346.7L1680.1,1347.7L1681.6,1345.6L1683.1,1346.5L1684.7,1347.1L1686.2,1347.0L1687.7,1345.1L1689.2,1348.0L1690.8,1345.5L1692.3,1346.9L1693.8,1345.6L1695.3,1346.7L1696.9,1347.6L1698.4,1345.4L1699.9,1346.7L1701.4,1346.9L1702.9,1347.4L1704.5,1348.2L1706.0,1346.7L1707.5,1348.0L1709.0,1345.4L1710.6,1347.1L1712.1,1345.0L1713.6,1348.7L1715.1,1346.1L1716.7,1348.0L1718.2,1346.0L1719.7,1346.6L1721.2,1346.6L1722.8,1346.9L1724.3,1347.2L1725.8,1345.9L1727.3,1347.9L1728.9,1347.8L1730.4,1345.7L1731.9,1346.6L1733.4,1346.7L1735.0,1346.9L1736.5,1349.3L1738.0,1347.7L1739.5,1346.4L1741.0,1350.5L1742.6,1347.6L1744.1,1346.6L1745.6,1346.6L1747.1,1348.5L1748.7,1346.1L1750.2,1348.5L1751.7,1348.5L1753.2,1347.0L1754.8,1347.5L1756.3,1347.3L1757.8,1349.4L1759.3,1348.2L1760.9,1348.5L1762.4,1348.8L1763.9,1347.9L1765.4,1347.6L1767.0,1348.7L1768.5,1349.0L1770.0,1347.9L1771.5,1348.2L1773.1,1347.5L1774.6,1349.9L1776.1,1348.7L1777.6,1348.6L1779.1,1348.6L1780.7,1348.8L1782.2,1348.5L1783.7,1349.5L1785.2,1348.5L1786.8,1349.4L1788.3,1348.5L1789.8,1348.2L1791.3,1350.0L1792.9,1349.5L1794.4,1350.1L1795.9,1348.0L1797.4,1348.5L1799.0,1347.2L1800.5,1349.5L1802.0,1348.0L1803.5,1350.5L1805.1,1347.4L1806.6,1350.5L1808.1,1347.4L1809.6,1349.5L1811.2,1350.3L1812.7,1348.4L1814.2,1349.9L1815.7,1349.8L1817.2,1347.8L1818.8,1352.1L1820.3,1347.2L1821.8,1349.7L1823.3,1349.5L1824.9,1349.8L1826.4,1350.4L1827.9,1350.5L1829.4,1347.9L1831.0,1349.9L1832.5,1347.4L1834.0,1350.6L1835.5,1348.7L1837.1,1350.4L1838.6,1347.8L1840.1,1349.2L1841.6,1350.5L1843.2,1350.4L1844.7,1349.4L1846.2,1349.6L1847.7,1349.4L1849.3,1349.5L1850.8,1349.5L1852.3,1352.9L1853.8,1349.9L1855.3,1348.4L1856.9,1350.1L1858.4,1348.9L1859.9,1350.5L1861.4,1352.2L1863.0,1350.7L1864.5,1350.0L1866.0,1350.5L1867.5,1349.8L1869.1,1349.1L1870.6,1349.8L1872.1,1351.4L1873.6,1348.0L1875.2,1352.1L1876.7,1352.1L1878.2,1349.6L1879.7,1351.5L1881.3,1350.0L1882.8,1349.9L1884.3,1348.0L1885.8,1350.0L1887.4,1352.0L1888.9,1349.8L1890.4,1350.0L1891.9,1352.0L1893.4,1349.6L1895.0,1348.2L1896.5,1350.3L1898.0,1351.9L1899.5,1351.0L1901.1,1349.7L1902.6,1351.4L1904.1,1349.8L1905.6,1353.2L1907.2,1350.3L1908.7,1351.7L1910.2,1350.5L1911.7,1351.6L1913.3,1350.8L1914.8,1350.4L1916.3,1349.9L1917.8,1350.2L1919.4,1350.4L1920.9,1351.3L1922.4,1350.9L1923.9,1351.9L1925.5,1349.8L1927.0,1350.9L1928.5,1347.9L1930.0,1350.4L1931.5,1349.7L1933.1,1350.7L1934.6,1350.6L1936.1,1349.9L1937.6,1351.1L1939.2,1349.8L1940.7,1350.7L1942.2,1349.7L1943.7,1351.0L1945.3,1349.7L1946.8,1350.5L1948.3,1349.6L1949.8,1349.2L1951.4,1352.5L1952.9,1349.1L1954.4,1352.3L1955.9,1349.7L1957.5,1350.8L1959.0,1350.6L1960.5,1349.5L1962.0,1348.9L1963.6,1352.1L1965.1,1350.4L1966.6,1348.7L1968.1,1350.3L1969.6,1349.9L1971.2,1352.2L1972.7,1350.8L1974.2,1350.6L1975.7,1352.0L1977.3,1350.8L1978.8,1349.7L1980.3,1349.2L1981.8,1352.3L1983.4,1348.1L1984.9,1353.0L1986.4,1347.8L1987.9,1350.8L1989.5,1352.2L1991.0,1351.4L1992.5,1352.0L1994.0,1348.5L1995.6,1351.0L1997.1,1350.6L1998.6,1350.3L2000.1,1350.2L2001.7,1351.3L2003.2,1350.6L2004.7,1349.6L2006.2,1350.4L2007.7,1350.6L2009.3,1350.8L2010.8,1350.5L2012.3,1349.0L2013.8,1351.5L2015.4,1351.3L2016.9,1352.7L2018.4,1349.7L2019.9,1352.4L2021.5,1349.7L2023.0,1352.9L2024.5,1350.2L2026.0,1351.3L2027.6,1350.6L2029.1,1351.3L2030.6,1351.1L2032.1,1349.1L2033.7,1352.4L2035.2,1349.2L2036.7,1351.3L2038.2,1352.1L2039.8,1350.4" stroke="#1062de"/>
<path d="M214.0,440.0L215.5,300.2L217.0,430.5L218.6,281.9L220.1,440.9L221.6,285.8L223.1,444.1L224.7,298.5L226.2,431.1L227.7,333.8L229.2,446.8L230.8,339.8L232.3,438.7L233.8,345.9L235.3,446.0L236.9,400.0L238.4,528.6L239.9,546.9L241.4,574.4L243.0,555.8L244.5,500.9L246.0,476.4L247.5,458.3L249.1,437.2L250.6,440.4L252.1,472.4L253.6,488.2L255.1,519.9L256.7,519.9L258.2,496.5L259.7,494.7L261.2,502.9L262.8,504.7L264.3,491.6L265.8,487.6L267.3,479.6L268.9,489.4L270.4,500.6L271.9,496.5L273.4,493.2L275.0,480.7L276.5,487.9L278.0,515.8L279.5,519.7L281.1,498.3L282.6,468.7L284.1,460.9L285.6,439.2L287.2,462.7L288.7,468.3L290.2,458.3L291.7,459.8L293.2,442.7L294.8,471.1L296.3,498.6L297.8,500.4L299.3,488.9L300.9,476.1L302.4,503.6L303.9,501.9L305.4,524.1L307.0,537.5L308.5,555.0L310.0,556.3L311.5,555.6L313.1,509.4L314.6,498.1L316.1,488.9L317.6,472.0L319.2,453.2L320.7,473.6L322.2,456.6L323.7,469.7L325.3,489.5L326.8,480.2L328.3,478.7L329.8,465.2L331.3,480.5L332.9,490.7L334.4,488.9L335.9,489.4L337.4,467.3L339.0,486.7L340.5,483.3L342.0,508.8L343.5,504.9L345.1,484.1L346.6,483.8L348.1,487.9L349.6,512.5L351.2,522.1L352.7,519.6L354.2,492.6L355.7,498.6L357.3,493.6L358.8,513.5L360.3,491.3L361.8,498.0L363.4,500.7L364.9,490.3L366.4,500.9L367.9,495.0L369.4,497.4L371.0,493.6L372.5,484.3L374.0,484.9L375.5,485.3L377.1,485.4L378.6,484.2L380.1,519.4L381.6,502.2L383.2,529.2L384.7,524.8L386.2,522.2L387.7,504.7L389.3,522.9L390.8,498.3L392.3,503.4L393.8,489.3L395.4,508.4L396.9,502.1L398.4,481.2L399.9,494.4L401.5,489.0L403.0,497.0L404.5,505.6L406.0,510.0L407.5,513.0L409.1,503.8L410.6,512.0L412.1,503.0L413.6,499.0L415.2,495.1L416.7,500.8L418.2,525.5L419.7,501.6L421.3,508.6L422.8,499.3L424.3,509.9L425.8,511.6L427.4,505.5L428.9,498.0L430.4,487.6L431.9,501.2L433.5,481.1L435.0,499.6L436.5,495.5L438.0,486.4L439.6,497.1L441.1,486.4L442.6,490.8L444.1,497.0L445.6,491.9L447.2,489.2L448.7,494.9L450.2,504.0L451.7,488.6L453.3,485.0L454.8,494.9L456.3,484.6L457.8,489.2L459.4,489.2L460.9,487.1L462.4,487.0L463.9,497.7L465.5,506.6L467.0,503.4L468.5,512.6L470.0,520.0L471.6,524.9L473.1,526.2L474.6,521.4L476.1,505.8L477.7,489.2L479.2,491.8L480.7,470.2L482.2,492.7L483.7,453.0L485.3,449.9L486.8,465.1L488.3,472.1L489.8,483.7L491.4,485.4L492.9,498.6L494.4,495.2L495.9,487.9L497.5,472.9L499.0,478.8L500.5,465.5L502.0,493.5L503.6,502.4L505.1,507.8L506.6,516.6L508.1,519.4L509.7,502.3L511.2,492.1L512.7,476.2L514.2,474.6L515.8,502.8L517.3,517.3L518.8,512.8L520.3,528.9L521.8,496.1L523.4,487.9L524.9,480.0L526.4,510.3L527.9,506.5L529.5,518.9L531.0,521.2L532.5,515.1L534.0,493.0L535.6,490.1L537.1,477.4L538.6,469.4L540.1,460.1L541.7,472.2L543.2,457.9L544.7,483.4L546.2,486.5L547.8,513.9L549.3,504.8L550.8,500.8L552.3,480.2L553.9,470.4L555.4,475.0L556.9,492.5L558.4,499.3L559.9,509.2L561.5,511.0L563.0,508.5L564.5,490.4L566.0,493.3L567.6,485.7L569.1,507.9L570.6,513.6L572.1,530.0L573.7,537.2L575.2,513.5L576.7,480.9L578.2,502.8L579.8,479.1L581.3,505.9L582.8,504.6L584.3,533.0L585.9,528.5L587.4,486.7L588.9,494.5L590.4,451.6L592.0,449.4L593.5,464.1L595.0,488.0L596.5,475.7L598.0,493.3L599.6,502.3L601.1,516.1L602.6,521.7L604.1,541.1L605.7,542.9L607.2,569.8L608.7,569.3L610.2,546.0L611.8,544.0L613.3,540.9L614.8,536.5L616.3,534.6L617.9,524.5L619.4,541.2L620.9,553.2L622.4,570.6L624.0,560.3L625.5,559.4L627.0,557.2L628.5,567.8L630.1,571.7L631.6,560.1L633.1,577.1L634.6,576.3L636.1,586.8L637.7,578.1L639.2,588.6L640.7,584.3L642.2,588.4L643.8,586.8L645.3,591.7L646.8,595.3L648.3,595.0L649.9,596.5L651.4,602.0L652.9,588.4L654.4,600.4L656.0,610.8L657.5,600.8L659.0,602.5L660.5,604.4L662.1,615.7L663.6,615.3L665.1,624.8L666.6,623.4L668.2,635.4L669.7,638.0L671.2,644.4L672.7,643.4L674.2,656.0L675.8,660.3L677.3,656.1L678.8,666.6L680.3,679.8L681.9,690.1L683.4,705.9L684.9,709.4L686.4,712.4L688.0,719.8L689.5,721.0L691.0,729.7L692.5,733.0L694.1,735.8L695.6,747.2L697.1,742.6L698.6,757.8L700.2,751.1L701.7,765.6L703.2,766.1L704.7,770.3L706.3,779.5L707.8,784.1L709.3,791.1L710.8,800.5L712.3,802.7L713.9,809.5L715.4,821.1L716.9,826.1L718.4,834.1L720.0,841.4L721.5,850.5L723.0,857.1L724.5,864.2L726.1,871.1L727.6,881.1L729.1,888.4L730.6,894.7L732.2,906.0L733.7,908.6L735.2,917.3L736.7,925.2L738.3,929.8L739.8,936.9L741.3,942.5L742.8,950.5L744.4,953.9L745.9,962.6L747.4,968.1L748.9,973.7L750.4,984.6L752.0,987.7L753.5,993.4L755.0,1000.3L756.5,1003.4L758.1,1012.1L759.6,1017.1L761.1,1019.4L762.6,1028.8L764.2,1032.0L765.7,1039.1L767.2,1043.0L768.7,1048.8L770.3,1055.8L771.8,1064.1L773.3,1072.1L774.8,1081.2L776.4,1087.9L777.9,1095.3L779.4,1104.1L780.9,1108.0L782.5,1117.3L784.0,1123.2L785.5,1130.8L787.0,1135.1L788.5,1143.1L790.1,1150.8L791.6,1156.3L793.1,1163.4L794.6,1167.6L796.2,1174.1L797.7,1182.2L799.2,1188.2L800.7,1196.6L802.3,1203.6L803.8,1211.6L805.3,1219.5L806.8,1226.6L808.4,1233.6L809.9,1239.8L811.4,1243.5L812.9,1245.0L814.5,1247.6L816.0,1249.8L817.5,1253.4L819.0,1256.7L820.6,1259.4L822.1,1261.5L823.6,1264.8L825.1,1267.3L826.6,1273.3L828.2,1275.5L829.7,1279.6L831.2,1284.2L832.7,1287.3L834.3,1291.9L835.8,1296.5L837.3,1297.4L838.8,1301.1L840.4,1303.5L841.9,1306.4L843.4,1310.4L844.9,1311.9L846.5,1315.2L848.0,1314.9L849.5,1319.5L851.0,1320.0L852.6,1322.0L854.1,1323.0L855.6,1324.2L857.1,1326.8L858.7,1327.4L860.2,1329.1L861.7,1328.8L863.2,1329.4L864.7,1330.0L866.3,1330.3L867.8,1329.9L869.3,1330.3L870.8,1330.2L872.4,1331.2L873.9,1330.3L875.4,1330.9L876.9,1331.2L878.5,1331.0L880.0,1331.8L881.5,1332.7L883.0,1331.6L884.6,1333.0L886.1,1332.2L887.6,1331.9L889.1,1332.2L890.7,1332.5L892.2,1331.0L893.7,1332.3L895.2,1332.1L896.8,1330.9L898.3,1332.4L899.8,1331.5L901.3,1330.8L902.8,1331.7L904.4,1330.2L905.9,1330.7L907.4,1330.3L908.9,1331.3L910.5,1330.4L912.0,1330.2L913.5,1330.2L915.0,1330.2L916.6,1329.9L918.1,1329.7L919.6,1329.9L921.1,1329.0L922.7,1329.3L924.2,1329.9L925.7,1329.0L927.2,1327.8L928.8,1329.9L930.3,1327.7L931.8,1329.6L933.3,1327.9L934.9,1328.7L936.4,1326.7L937.9,1327.6L939.4,1327.2L940.9,1327.1L942.5,1326.8L944.0,1326.8L945.5,1326.9L947.0,1326.5L948.6,1326.8L950.1,1326.9L951.6,1325.6L953.1,1326.8L954.7,1325.9L956.2,1326.6L957.7,1326.7L959.2,1325.5L960.8,1326.3L962.3,1326.7L963.8,1326.6L965.3,1325.7L966.9,1326.7L968.4,1325.9L969.9,1325.9L971.4,1325.5L973.0,1326.0L974.5,1326.0L976.0,1325.2L977.5,1326.0L979.0,1324.7L980.6,1325.0L982.1,1325.8L983.6,1325.1L985.1,1324.9L986.7,1325.5L988.2,1325.4L989.7,1325.0L991.2,1325.8L992.8,1324.2L994.3,1324.6L995.8,1325.2L997.3,1323.7L998.9,1325.0L1000.4,1323.1L1001.9,1323.9L1003.4,1323.9L1005.0,1323.6L1006.5,1324.6L1008.0,1322.8L1009.5,1323.7L1011.1,1323.3L1012.6,1323.1L1014.1,1323.7L1015.6,1322.4L1017.1,1322.7L1018.7,1322.2L1020.2,1323.2L1021.7,1322.4L1023.2,1322.5L1024.8,1322.3L1026.3,1321.4L1027.8,1322.4L1029.3,1321.8L1030.9,1322.5L1032.4,1321.6L1033.9,1321.0L1035.4,1321.3L1037.0,1322.2L1038.5,1320.1L1040.0,1320.5L1041.5,1321.2L1043.1,1321.6L1044.6,1320.7L1046.1,1320.2L1047.6,1322.2L1049.2,1319.9L1050.7,1321.4L1052.2,1321.2L1053.7,1320.5L1055.2,1320.9L1056.8,1321.2L1058.3,1319.5L1059.8,1321.2L1061.3,1320.8L1062.9,1320.9L1064.4,1319.9L1065.9,1320.6L1067.4,1319.8L1069.0,1320.0L1070.5,1319.7L1072.0,1320.6L1073.5,1320.0L1075.1,1320.7L1076.6,1318.4L1078.1,1319.9L1079.6,1320.1L1081.2,1320.8L1082.7,1319.1L1084.2,1319.0L1085.7,1319.6L1087.3,1319.7L1088.8,1320.1L1090.3,1320.1L1091.8,1319.8L1093.3,1319.4L1094.9,1320.7L1096.4,1318.7L1097.9,1319.6L1099.4,1319.6L1101.0,1318.9L1102.5,1319.2L1104.0,1319.6L1105.5,1318.6L1107.1,1319.2L1108.6,1319.0L1110.1,1320.4L1111.6,1319.1L1113.2,1318.7L1114.7,1319.7L1116.2,1318.5L1117.7,1319.8L1119.3,1318.3L1120.8,1320.2L1122.3,1319.2L1123.8,1318.9L1125.4,1320.1L1126.9,1320.0L1128.4,1319.9L1129.9,1319.9L1131.4,1319.1L1133.0,1320.6L1134.5,1318.6L1136.0,1320.2L1137.5,1321.2L1139.1,1319.1L1140.6,1319.6L1142.1,1320.0L1143.6,1320.7L1145.2,1320.3L1146.7,1321.1L1148.2,1320.4L1149.7,1320.1L1151.3,1321.4L1152.8,1320.3L1154.3,1321.4L1155.8,1321.5L1157.4,1321.1L1158.9,1321.7L1160.4,1320.2L1161.9,1321.2L1163.5,1321.3L1165.0,1320.6L1166.5,1322.3L1168.0,1321.8L1169.5,1321.6L1171.1,1321.8L1172.6,1321.4L1174.1,1321.1L1175.6,1321.6L1177.2,1321.7L1178.7,1322.0L1180.2,1321.8L1181.7,1322.2L1183.3,1321.3L1184.8,1321.9L1186.3,1322.3L1187.8,1322.6L1189.4,1321.1L1190.9,1322.7L1192.4,1322.5L1193.9,1322.1L1195.5,1322.4L1197.0,1322.1L1198.5,1322.4L1200.0,1322.1L1201.6,1321.6L1203.1,1323.4L1204.6,1322.3L1206.1,1322.2L1207.6,1323.3L1209.2,1322.1L1210.7,1323.0L1212.2,1321.5L1213.7,1322.6L1215.3,1323.3L1216.8,1323.3L1218.3,1323.6L1219.8,1323.3L1221.4,1323.6L1222.9,1322.2L1224.4,1322.2L1225.9,1321.7L1227.5,1323.3L1229.0,1322.7L1230.5,1323.9L1232.0,1322.6L1233.6,1324.1L1235.1,1321.8L1236.6,1324.5L1238.1,1322.7L1239.7,1324.1L1241.2,1323.5L1242.7,1322.7L1244.2,1324.1L1245.7,1322.9L1247.3,1324.2L1248.8,1323.7L1250.3,1323.8L1251.8,1323.5L1253.4,1323.6L1254.9,1323.9L1256.4,1322.4L1257.9,1324.9L1259.5,1323.6L1261.0,1324.3L1262.5,1323.5L1264.0,1324.5L1265.6,1323.8L1267.1,1325.3L1268.6,1323.1L1270.1,1325.5L1271.7,1323.6L1273.2,1325.0L1274.7,1324.3L1276.2,1324.1L1277.8,1323.6L1279.3,1325.5L1280.8,1323.5L1282.3,1324.9L1283.8,1325.7L1285.4,1325.5L1286.9,1325.0L1288.4,1324.1L1289.9,1325.3L1291.5,1325.2L1293.0,1324.8L1294.5,1326.3L1296.0,1325.2L1297.6,1325.7L1299.1,1325.3L1300.6,1324.7L1302.1,1325.3L1303.7,1325.1L1305.2,1326.6L1306.7,1325.5L1308.2,1326.2L1309.8,1326.0L1311.3,1326.2L1312.8,1327.0L1314.3,1326.3L1315.9,1326.2L1317.4,1326.2L1318.9,1327.1L1320.4,1324.9L1321.9,1327.6L1323.5,1325.7L1325.0,1327.0L1326.5,1326.2L1328.0,1326.7L1329.6,1326.5L1331.1,1324.4L1332.6,1326.7L1334.1,1326.3L1335.7,1326.2L1337.2,1325.9L1338.7,1327.6L1340.2,1326.2L1341.8,1327.4L1343.3,1327.8L1344.8,1326.3L1346.3,1327.4L1347.9,1328.0L1349.4,1326.9L1350.9,1327.2L1352.4,1326.0L1354.0,1328.7L1355.5,1326.9L1357.0,1326.8L1358.5,1328.4L1360.0,1327.1L1361.6,1327.8L1363.1,1327.3L1364.6,1328.4L1366.1,1328.1L1367.7,1327.5L1369.2,1328.0L1370.7,1329.0L1372.2,1327.8L1373.8,1327.8L1375.3,1329.1L1376.8,1327.4L1378.3,1328.5L1379.9,1327.4L1381.4,1328.0L1382.9,1328.1L1384.4,1328.8L1386.0,1329.0L1387.5,1328.0L1389.0,1329.2L1390.5,1328.3L1392.1,1329.2L1393.6,1328.0L1395.1,1329.1L1396.6,1328.5L1398.1,1329.0L1399.7,1330.5L1401.2,1328.6L1402.7,1330.0L1404.2,1329.4L1405.8,1327.9L1407.3,1329.7L1408.8,1329.7L1410.3,1328.0L1411.9,1329.1L1413.4,1331.7L1414.9,1328.7L1416.4,1329.3L1418.0,1329.5L1419.5,1328.9L1421.0,1329.8L1422.5,1329.7L1424.1,1329.4L1425.6,1330.7L1427.1,1330.6L1428.6,1330.3L1430.2,1329.2L1431.7,1329.7L1433.2,1329.0L1434.7,1330.5L1436.2,1329.5L1437.8,1329.9L1439.3,1329.8L1440.8,1330.6L1442.3,1330.4L1443.9,1329.6L1445.4,1331.8L1446.9,1330.3L1448.4,1329.8L1450.0,1331.6L1451.5,1330.0L1453.0,1332.5L1454.5,1331.5L1456.1,1331.3L1457.6,1332.8L1459.1,1330.1L1460.6,1331.9L1462.2,1331.0L1463.7,1330.9L1465.2,1330.8L1466.7,1332.7L1468.3,1331.2L1469.8,1331.3L1471.3,1331.7L1472.8,1334.3L1474.3,1331.4L1475.9,1331.8L1477.4,1332.1L1478.9,1333.2L1480.4,1332.0L1482.0,1332.4L1483.5,1332.5L1485.0,1332.2L1486.5,1332.6L1488.1,1333.8L1489.6,1332.4L1491.1,1333.0L1492.6,1330.8L1494.2,1334.2L1495.7,1333.7L1497.2,1332.6L1498.7,1333.9L1500.3,1332.4L1501.8,1334.0L1503.3,1333.7L1504.8,1331.9L1506.4,1335.0L1507.9,1334.4L1509.4,1333.6L1510.9,1333.2L1512.4,1334.2L1514.0,1333.9L1515.5,1334.9L1517.0,1334.0L1518.5,1334.3L1520.1,1335.2L1521.6,1334.8L1523.1,1334.6L1524.6,1334.2L1526.2,1334.3L1527.7,1334.5L1529.2,1334.4L1530.7,1334.9L1532.3,1336.0L1533.8,1334.6L1535.3,1335.2L1536.8,1333.8L1538.4,1336.7L1539.9,1334.8L1541.4,1336.3L1542.9,1335.8L1544.5,1335.2L1546.0,1336.4L1547.5,1334.6L1549.0,1335.9L1550.5,1337.3L1552.1,1335.1L1553.6,1336.9L1555.1,1336.2L1556.6,1335.9L1558.2,1337.8L1559.7,1336.1L1561.2,1337.4L1562.7,1338.1L1564.3,1335.2L1565.8,1337.3L1567.3,1337.6L1568.8,1336.8L1570.4,1338.2L1571.9,1337.4L1573.4,1337.4L1574.9,1337.7L1576.5,1336.8L1578.0,1336.6L1579.5,1336.5L1581.0,1338.3L1582.6,1336.8L1584.1,1339.3L1585.6,1336.6L1587.1,1337.1L1588.6,1336.8L1590.2,1339.7L1591.7,1337.9L1593.2,1339.0L1594.7,1337.3L1596.3,1340.1L1597.8,1336.9L1599.3,1339.2L1600.8,1338.3L1602.4,1339.9L1603.9,1337.7L1605.4,1339.1L1606.9,1338.9L1608.5,1339.2L1610.0,1339.3L1611.5,1340.0L1613.0,1340.0L1614.6,1339.1L1616.1,1339.6L1617.6,1339.8L1619.1,1340.1L1620.7,1339.7L1622.2,1340.4L1623.7,1340.1L1625.2,1340.8L1626.7,1339.5L1628.3,1340.7L1629.8,1339.8L1631.3,1339.2L1632.8,1340.3L1634.4,1340.8L1635.9,1340.2L1637.4,1340.1L1638.9,1341.6L1640.5,1341.7L1642.0,1341.4L1643.5,1341.6L1645.0,1340.0L1646.6,1342.1L1648.1,1342.5L1649.6,1342.2L1651.1,1341.4L1652.7,1342.6L1654.2,1341.2L1655.7,1341.7L1657.2,1342.3L1658.8,1342.2L1660.3,1341.5L1661.8,1342.1L1663.3,1343.1L1664.8,1341.5L1666.4,1342.6L1667.9,1342.5L1669.4,1343.2L1670.9,1342.2L1672.5,1342.9L1674.0,1343.5L1675.5,1342.0L1677.0,1342.4L1678.6,1341.7L1680.1,1343.8L1681.6,1342.2L1683.1,1342.7L1684.7,1341.6L1686.2,1343.2L1687.7,1342.3L1689.2,1343.2L1690.8,1343.0L1692.3,1343.5L1693.8,1344.8L1695.3,1342.2L1696.9,1343.9L1698.4,1343.0L1699.9,1343.6L1701.4,1343.9L1702.9,1344.5L1704.5,1343.8L1706.0,1344.2L1707.5,1344.5L1709.0,1344.1L1710.6,1343.8L1712.1,1344.3L1713.6,1344.4L1715.1,1343.0L1716.7,1345.5L1718.2,1344.3L1719.7,1345.2L1721.2,1344.6L1722.8,1343.6L1724.3,1344.5L1725.8,1344.9L1727.3,1343.8L1728.9,1346.3L1730.4,1343.6L1731.9,1347.0L1733.4,1344.8L1735.0,1345.8L1736.5,1344.0L1738.0,1345.5L1739.5,1345.0L1741.0,1346.8L1742.6,1346.9L1744.1,1346.8L1745.6,1343.1L1747.1,1346.6L1748.7,1344.4L1750.2,1346.2L1751.7,1345.5L1753.2,1344.7L1754.8,1345.4L1756.3,1346.9L1757.8,1345.8L1759.3,1345.8L1760.9,1346.6L1762.4,1345.4L1763.9,1347.3L1765.4,1345.9L1767.0,1347.7L1768.5,1344.5L1770.0,1347.7L1771.5,1346.1L1773.1,1345.8L1774.6,1346.3L1776.1,1347.2L1777.6,1347.5L1779.1,1346.5L1780.7,1347.2L1782.2,1346.8L1783.7,1346.9L1785.2,1349.3L1786.8,1347.5L1788.3,1348.9L1789.8,1346.7L1791.3,1348.2L1792.9,1347.4L1794.4,1348.8L1795.9,1347.7L1797.4,1349.4L1799.0,1347.6L1800.5,1347.7L1802.0,1347.2L1803.5,1347.8L1805.1,1349.0L1806.6,1347.5L1808.1,1348.6L1809.6,1349.0L1811.2,1349.5L1812.7,1347.1L1814.2,1348.7L1815.7,1347.3L1817.2,1349.2L1818.8,1348.5L1820.3,1349.0L1821.8,1347.5L1823.3,1348.9L1824.9,1347.3L1826.4,1350.1L1827.9,1348.2L1829.4,1348.7L1831.0,1349.6L1832.5,1349.8L1834.0,1348.6L1835.5,1349.6L1837.1,1349.7L1838.6,1349.1L1840.1,1348.7L1841.6,1349.2L1843.2,1350.6L1844.7,1349.7L1846.2,1348.7L1847.7,1349.7L1849.3,1350.7L1850.8,1349.8L1852.3,1349.3L1853.8,1349.0L1855.3,1350.5L1856.9,1351.6L1858.4,1349.4L1859.9,1349.4L1861.4,1349.4L1863.0,1351.3L1864.5,1347.7L1866.0,1350.3L1867.5,1350.0L1869.1,1349.5L1870.6,1352.5L1872.1,1349.7L1873.6,1350.5L1875.2,1351.2L1876.7,1349.9L1878.2,1348.6L1879.7,1351.0L1881.3,1349.5L1882.8,1349.9L1884.3,1351.8L1885.8,1349.0L1887.4,1350.8L1888.9,1350.2L1890.4,1350.7L1891.9,1352.5L1893.4,1348.8L1895.0,1350.8L1896.5,1351.5L1898.0,1350.2L1899.5,1349.8L1901.1,1350.2L1902.6,1351.9L1904.1,1348.7L1905.6,1353.0L1907.2,1351.8L1908.7,1350.3L1910.2,1351.1L1911.7,1351.0L1913.3,1350.2L1914.8,1351.2L1916.3,1348.2L1917.8,1349.6L1919.4,1350.0L1920.9,1350.1L1922.4,1351.5L1923.9,1350.7L1925.5,1351.6L1927.0,1350.5L1928.5,1350.9L1930.0,1351.3L1931.5,1349.8L1933.1,1350.2L1934.6,1350.4L1936.1,1349.4L1937.6,1350.7L1939.2,1350.7L1940.7,1349.8L1942.2,1350.3L1943.7,1350.4L1945.3,1352.4L1946.8,1352.1L1948.3,1349.7L1949.8,1352.6L1951.4,1350.5L1952.9,1350.0L1954.4,1351.1L1955.9,1350.2L1957.5,1350.4L1959.0,1349.7L1960.5,1351.7L1962.0,1349.1L1963.6,1350.9L1965.1,1351.8L1966.6,1353.0L1968.1,1350.4L1969.6,1351.5L1971.2,1351.9L1972.7,1350.7L1974.2,1352.8L1975.7,1348.0L1977.3,1352.5L1978.8,1349.8L1980.3,1351.8L1981.8,1352.6L1983.4,1350.9L1984.9,1350.9L1986.4,1351.5L1987.9,1350.7L1989.5,1351.6L1991.0,1350.8L1992.5,1350.6L1994.0,1349.9L1995.6,1352.5L1997.1,1350.6L1998.6,1350.0L2000.1,1350.3L2001.7,1351.8L2003.2,1350.2L2004.7,1352.0L2006.2,1352.6L2007.7,1354.9L2009.3,1350.8L2010.8,1353.6L2012.3,1349.0L2013.8,1351.5L2015.4,1351.8L2016.9,1352.0L2018.4,1349.5L2019.9,1353.5L2021.5,1351.7L2023.0,1352.0L2024.5,1352.1L2026.0,1350.9L2027.6,1353.1L2029.1,1351.5L2030.6,1351.3L2032.1,1352.5L2033.7,1350.2L2035.2,1351.7L2036.7,1351.3L2038.2,1352.2L2039.8,1351.2" stroke="#32ad62"/>
<path d="M216.0,642.0L217.5,560.9L219.0,460.7L220.6,566.7L222.1,479.8L223.6,570.8L225.1,482.5L226.7,572.0L228.2,480.6L229.7,571.3L231.2,483.1L232.8,574.0L234.3,446.3L235.8,561.0L237.3,439.6L238.9,455.6L240.4,473.6L241.9,477.3L243.4,501.9L245.0,496.0L246.5,467.9L248.0,459.7L249.5,469.3L251.1,492.5L252.6,510.1L254.1,493.9L255.6,480.6L257.1,512.2L258.7,528.0L260.2,511.9L261.7,491.5L263.2,501.8L264.8,518.0L266.3,528.5L267.8,508.0L269.3,471.1L270.9,469.0L272.4,520.7L273.9,528.1L275.4,527.4L277.0,502.7L278.5,506.3L280.0,539.8L281.5,570.4L283.1,536.6L284.6,519.8L286.1,521.6L287.6,541.2L289.2,527.7L290.7,507.4L292.2,515.5L293.7,544.2L295.2,557.9L296.8,562.8L298.3,567.5L299.8,569.1L301.3,567.0L302.9,538.9L304.4,529.7L305.9,518.7L307.4,525.0L309.0,513.7L310.5,541.0L312.0,540.1L313.5,547.0L315.1,545.5L316.6,532.0L318.1,531.3L319.6,523.8L321.2,512.9L322.7,511.3L324.2,537.7L325.7,541.6L327.3,555.2L328.8,554.5L330.3,564.0L331.8,570.3L333.3,557.1L334.9,563.9L336.4,566.4L337.9,564.0L339.4,549.2L341.0,537.0L342.5,531.4L344.0,518.5L345.5,514.9L347.1,524.5L348.6,507.4L350.1,499.3L351.6,525.1L353.2,528.1L354.7,549.6L356.2,548.4L357.7,563.2L359.3,583.3L360.8,593.8L362.3,577.7L363.8,561.3L365.4,539.5L366.9,533.2L368.4,531.5L369.9,520.1L371.4,509.0L373.0,523.9L374.5,538.6L376.0,545.8L377.5,550.9L379.1,563.9L380.6,566.4L382.1,590.8L383.6,581.0L385.2,575.3L386.7,560.5L388.2,565.7L389.7,553.3L391.3,535.2L392.8,554.4L394.3,546.8L395.8,559.2L397.4,572.6L398.9,570.2L400.4,564.2L401.9,573.4L403.5,554.6L405.0,550.3L406.5,536.5L408.0,537.8L409.5,528.9L411.1,533.6L412.6,541.5L414.1,546.4L415.6,545.6L417.2,557.8L418.7,550.5L420.2,541.7L421.7,531.4L423.3,525.8L424.8,528.2L426.3,517.7L427.8,537.8L429.4,545.8L430.9,540.1L432.4,574.6L433.9,558.0L435.5,559.5L437.0,544.4L438.5,531.5L440.0,520.6L441.6,522.9L443.1,524.0L444.6,513.5L446.1,514.8L447.6,529.9L449.2,544.7L450.7,537.1L452.2,531.6L453.7,554.1L455.3,560.4L456.8,564.4L458.3,558.0L459.8,576.7L461.4,575.4L462.9,567.4L464.4,537.6L465.9,539.6L467.5,523.7L469.0,532.2L470.5,523.2L472.0,516.2L473.6,511.8L475.1,511.4L476.6,532.5L478.1,530.2L479.7,540.5L481.2,541.2L482.7,550.3L484.2,567.3L485.7,564.8L487.3,562.8L488.8,559.3L490.3,560.8L491.8,574.9L493.4,556.7L494.9,561.7L496.4,569.4L497.9,578.5L499.5,559.9L501.0,552.1L502.5,545.4L504.0,536.3L505.6,534.2L507.1,530.1L508.6,543.1L510.1,546.9L511.7,543.9L513.2,556.7L514.7,546.8L516.2,553.4L517.8,562.1L519.3,552.8L520.8,527.7L522.3,528.8L523.8,513.6L525.4,523.3L526.9,526.6L528.4,536.0L529.9,545.0L531.5,546.2L533.0,525.7L534.5,521.1L536.0,508.5L537.6,509.6L539.1,501.5L540.6,497.3L542.1,518.4L543.7,530.7L545.2,550.2L546.7,559.7L548.2,547.5L549.8,552.1L551.3,542.0L552.8,529.2L554.3,536.7L555.9,518.1L557.4,517.6L558.9,522.7L560.4,523.4L561.9,541.7L563.5,545.3L565.0,562.6L566.5,561.8L568.0,553.5L569.6,543.9L571.1,507.5L572.6,533.6L574.1,527.6L575.7,565.4L577.2,561.2L578.7,544.6L580.2,524.7L581.8,517.5L583.3,505.9L584.8,489.3L586.3,492.4L587.9,494.3L589.4,500.2L590.9,504.9L592.4,509.1L594.0,505.3L595.5,531.0L597.0,523.2L598.5,537.5L600.0,550.1L601.6,542.7L603.1,566.1L604.6,562.0L606.1,573.5L607.7,575.9L609.2,581.4L610.7,588.0L612.2,579.8L613.8,579.4L615.3,567.6L616.8,573.4L618.3,586.7L619.9,585.0L621.4,587.7L622.9,559.2L624.4,587.6L626.0,560.9L627.5,578.2L629.0,575.2L630.5,587.4L632.1,606.2L633.6,603.7L635.1,622.7L636.6,601.5L638.1,615.8L639.7,607.0L641.2,620.0L642.7,617.5L644.2,617.0L645.8,614.9L647.3,615.8L648.8,620.1L650.3,625.2L651.9,638.5L653.4,629.5L654.9,646.2L656.4,654.5L658.0,649.5L659.5,665.6L661.0,663.6L662.5,669.7L664.1,672.0L665.6,679.8L667.1,679.1L668.6,684.4L670.2,684.6L671.7,685.2L673.2,690.6L674.7,702.3L676.2,700.0L677.8,709.5L679.3,715.0L680.8,717.4L682.3,720.9L683.9,727.7L685.4,733.1L686.9,736.1L688.4,750.3L690.0,750.5L691.5,756.0L693.0,761.2L694.5,768.1L696.1,775.4L697.6,781.6L699.1,789.1L700.6,791.9L702.2,801.3L703.7,807.4L705.2,812.2L706.7,815.3L708.3,824.9L709.8,834.0L711.3,841.7L712.8,850.2L714.3,854.5L715.9,861.4L717.4,868.2L718.9,876.3L720.4,881.2L722.0,888.8L723.5,898.4L725.0,903.2L726.5,911.5L728.1,913.7L729.6,925.7L731.1,929.2L732.6,940.4L734.2,939.4L735.7,952.2L737.2,958.4L738.7,963.9L740.3,968.6L741.8,976.0L743.3,982.0L744.8,988.3L746.4,996.2L747.9,997.8L749.4,1007.1L750.9,1010.9L752.4,1016.9L754.0,1022.0L755.5,1025.6L757.0,1033.8L758.5,1035.5L760.1,1044.1L761.6,1048.1L763.1,1056.3L764.6,1062.9L766.2,1066.4L767.7,1075.2L769.2,1081.5L770.7,1087.6L772.3,1094.2L773.8,1100.1L775.3,1106.8L776.8,1115.2L778.4,1121.5L779.9,1124.6L781.4,1136.0L782.9,1139.7L784.5,1147.6L786.0,1151.2L787.5,1158.7L789.0,1166.0L790.5,1169.6L792.1,1177.5L793.6,1182.7L795.1,1191.4L796.6,1198.4L798.2,1205.1L799.7,1211.6L801.2,1221.0L802.7,1233.0L804.3,1239.9L805.8,1245.5L807.3,1247.0L808.8,1251.2L810.4,1256.0L811.9,1256.1L813.4,1263.1L814.9,1265.2L816.5,1273.8L818.0,1274.8L819.5,1280.5L821.0,1285.6L822.6,1288.8L824.1,1295.0L825.6,1297.5L827.1,1300.6L828.6,1304.1L830.2,1308.4L831.7,1311.9L833.2,1315.5L834.7,1318.3L836.3,1322.9L837.8,1324.1L839.3,1325.3L840.8,1325.4L842.4,1327.6L843.9,1326.3L845.4,1329.4L846.9,1329.5L848.5,1330.9L850.0,1333.4L851.5,1333.6L853.0,1335.2L854.6,1335.3L856.1,1338.9L857.6,1337.9L859.1,1340.2L860.7,1340.4L862.2,1341.5L863.7,1342.2L865.2,1340.8L866.7,1341.3L868.3,1341.6L869.8,1342.4L871.3,1342.5L872.8,1342.4L874.4,1343.2L875.9,1343.2L877.4,1343.2L878.9,1342.2L880.5,1343.1L882.0,1342.0L883.5,1342.0L885.0,1342.0L886.6,1341.7L888.1,1341.4L889.6,1341.6L891.1,1340.9L892.7,1341.0L894.2,1341.2L895.7,1341.3L897.2,1340.7L898.8,1340.2L900.3,1341.0L901.8,1338.4L903.3,1340.6L904.8,1339.9L906.4,1339.0L907.9,1339.8L909.4,1338.9L910.9,1338.2L912.5,1338.3L914.0,1337.8L915.5,1337.4L917.0,1337.9L918.6,1336.8L920.1,1336.9L921.6,1336.7L923.1,1335.8L924.7,1335.6L926.2,1336.1L927.7,1335.9L929.2,1335.2L930.8,1335.0L932.3,1335.7L933.8,1333.8L935.3,1334.5L936.9,1334.1L938.4,1334.5L939.9,1332.7L941.4,1333.9L942.9,1333.8L944.5,1333.9L946.0,1332.6L947.5,1333.2L949.0,1332.6L950.6,1333.7L952.1,1333.0L953.6,1332.4L955.1,1333.0L956.7,1332.8L958.2,1331.5L959.7,1332.7L961.2,1333.1L962.8,1331.9L964.3,1332.4L965.8,1331.6L967.3,1332.4L968.9,1331.5L970.4,1331.2L971.9,1330.9L973.4,1331.6L975.0,1330.8L976.5,1330.9L978.0,1332.0L979.5,1330.6L981.0,1332.0L982.6,1329.9L984.1,1331.8L985.6,1330.4L987.1,1330.1L988.7,1330.9L990.2,1331.4L991.7,1330.5L993.2,1330.8L994.8,1331.0L996.3,1330.1L997.8,1330.4L999.3,1330.4L1000.9,1329.1L1002.4,1329.5L1003.9,1330.9L1005.4,1330.4L1007.0,1329.8L1008.5,1330.4L1010.0,1329.3L1011.5,1330.1L1013.1,1329.3L1014.6,1329.8L1016.1,1329.4L1017.6,1328.7L1019.1,1327.8L1020.7,1328.4L1022.2,1328.4L1023.7,1327.6L1025.2,1328.0L1026.8,1328.4L1028.3,1328.3L1029.8,1327.2L1031.3,1326.7L1032.9,1328.0L1034.4,1327.8L1035.9,1326.5L1037.4,1326.6L1039.0,1326.0L1040.5,1326.5L1042.0,1325.8L1043.5,1326.3L1045.1,1325.9L1046.6,1326.2L1048.1,1326.3L1049.6,1325.4L1051.2,1325.8L1052.7,1325.3L1054.2,1325.4L1055.7,1326.4L1057.2,1325.9L1058.8,1326.2L1060.3,1325.2L1061.8,1326.0L1063.3,1326.2L1064.9,1325.3L1066.4,1325.9L1067.9,1325.5L1069.4,1325.7L1071.0,1325.4L1072.5,1325.1L1074.0,1326.8L1075.5,1324.1L1077.1,1324.7L1078.6,1326.1L1080.1,1325.4L1081.6,1324.6L1083.2,1325.1L1084.7,1324.6L1086.2,1326.6L1087.7,1324.3L1089.3,1325.4L1090.8,1323.7L1092.3,1325.1L1093.8,1324.7L1095.3,1324.8L1096.9,1324.9L1098.4,1325.7L1099.9,1324.3L1101.4,1324.2L1103.0,1325.0L1104.5,1324.9L1106.0,1324.7L1107.5,1324.9L1109.1,1323.1L1110.6,1323.8L1112.1,1324.4L1113.6,1325.4L1115.2,1324.2L1116.7,1323.1L1118.2,1325.2L1119.7,1323.5L1121.3,1324.6L1122.8,1323.6L1124.3,1325.0L1125.8,1324.0L1127.4,1324.3L1128.9,1324.0L1130.4,1324.2L1131.9,1324.1L1133.4,1323.2L1135.0,1324.5L1136.5,1323.9L1138.0,1323.9L1139.5,1322.5L1141.1,1323.7L1142.6,1324.6L1144.1,1323.7L1145.6,1323.8L1147.2,1322.7L1148.7,1323.5L1150.2,1323.0L1151.7,1324.0L1153.3,1322.2L1154.8,1324.1L1156.3,1322.8L1157.8,1323.3L1159.4,1324.2L1160.9,1323.3L1162.4,1323.1L1163.9,1324.1L1165.5,1322.9L1167.0,1322.0L1168.5,1322.7L1170.0,1323.7L1171.5,1321.9L1173.1,1323.4L1174.6,1324.3L1176.1,1322.2L1177.6,1323.0L1179.2,1324.0L1180.7,1322.8L1182.2,1322.4L1183.7,1322.6L1185.3,1323.0L1186.8,1322.4L1188.3,1321.9L1189.8,1321.9L1191.4,1322.2L1192.9,1322.8L1194.4,1321.3L1195.9,1322.7L1197.5,1321.9L1199.0,1321.2L1200.5,1322.1L1202.0,1322.4L1203.6,1323.5L1205.1,1320.7L1206.6,1321.3L1208.1,1322.7L1209.6,1322.6L1211.2,1322.1L1212.7,1322.1L1214.2,1321.6L1215.7,1320.7L1217.3,1321.2L1218.8,1321.7L1220.3,1321.0L1221.8,1320.9L1223.4,1321.6L1224.9,1321.2L1226.4,1319.7L1227.9,1320.8L1229.5,1320.3L1231.0,1321.2L1232.5,1321.3L1234.0,1320.7L1235.6,1321.1L1237.1,1322.0L1238.6,1320.5L1240.1,1321.8L1241.7,1320.7L1243.2,1322.0L1244.7,1320.6L1246.2,1321.7L1247.7,1321.3L1249.3,1321.3L1250.8,1322.0L1252.3,1321.4L1253.8,1321.4L1255.4,1321.7L1256.9,1321.9L1258.4,1321.0L1259.9,1321.7L1261.5,1321.5L1263.0,1320.8L1264.5,1321.3L1266.0,1321.0L1267.6,1322.1L1269.1,1321.5L1270.6,1321.8L1272.1,1321.8L1273.7,1322.0L1275.2,1321.6L1276.7,1321.9L1278.2,1321.1L1279.8,1321.5L1281.3,1322.6L1282.8,1322.9L1284.3,1320.6L1285.8,1322.9L1287.4,1321.9L1288.9,1322.3L1290.4,1322.4L1291.9,1321.8L1293.5,1321.9L1295.0,1322.9L1296.5,1322.5L1298.0,1322.7L1299.6,1322.7L1301.1,1322.3L1302.6,1323.0L1304.1,1321.2L1305.7,1322.8L1307.2,1322.6L1308.7,1321.7L1310.2,1322.8L1311.8,1323.0L1313.3,1322.9L1314.8,1321.3L1316.3,1323.6L1317.9,1322.2L1319.4,1323.7L1320.9,1321.2L1322.4,1323.4L1323.9,1323.3L1325.5,1322.1L1327.0,1322.2L1328.5,1323.7L1330.0,1322.8L1331.6,1323.4L1333.1,1323.4L1334.6,1322.0L1336.1,1322.6L1337.7,1322.3L1339.2,1323.2L1340.7,1322.7L1342.2,1323.5L1343.8,1323.7L1345.3,1322.2L1346.8,1324.9L1348.3,1322.7L1349.9,1322.9L1351.4,1322.3L1352.9,1323.3L1354.4,1322.3L1356.0,1322.9L1357.5,1325.2L1359.0,1322.6L1360.5,1324.4L1362.0,1323.1L1363.6,1322.9L1365.1,1322.3L1366.6,1322.9L1368.1,1323.8L1369.7,1324.8L1371.2,1322.4L1372.7,1325.4L1374.2,1323.5L1375.8,1324.5L1377.3,1323.4L1378.8,1324.2L1380.3,1322.8L1381.9,1324.7L1383.4,1324.3L1384.9,1323.4L1386.4,1323.2L1388.0,1324.3L1389.5,1323.2L1391.0,1323.8L1392.5,1325.1L1394.1,1323.0L1395.6,1325.2L1397.1,1323.4L1398.6,1324.4L1400.1,1324.8L1401.7,1325.0L1403.2,1323.8L1404.7,1324.3L1406.2,1324.7L1407.8,1324.2L1409.3,1323.8L1410.8,1325.7L1412.3,1325.3L1413.9,1324.5L1415.4,1324.2L1416.9,1324.2L1418.4,1324.5L1420.0,1324.8L1421.5,1324.1L1423.0,1324.2L1424.5,1324.5L1426.1,1325.4L1427.6,1326.0L1429.1,1324.7L1430.6,1324.3L1432.2,1325.4L1433.7,1325.1L1435.2,1324.7L1436.7,1324.8L1438.2,1324.9L1439.8,1325.9L1441.3,1324.7L1442.8,1326.0L1444.3,1324.9L1445.9,1326.9L1447.4,1326.8L1448.9,1325.1L1450.4,1327.5L1452.0,1325.6L1453.5,1326.3L1455.0,1327.0L1456.5,1325.9L1458.1,1326.3L1459.6,1326.3L1461.1,1326.2L1462.6,1326.9L1464.2,1325.9L1465.7,1326.3L1467.2,1325.7L1468.7,1326.9L1470.3,1326.7L1471.8,1326.7L1473.3,1326.3L1474.8,1326.9L1476.3,1327.4L1477.9,1327.8L1479.4,1326.8L1480.9,1327.4L1482.4,1327.0L1484.0,1326.9L1485.5,1327.0L1487.0,1330.0L1488.5,1328.0L1490.1,1326.8L1491.6,1328.9L1493.1,1327.8L1494.6,1326.7L1496.2,1327.5L1497.7,1328.7L1499.2,1329.3L1500.7,1328.8L1502.3,1327.9L1503.8,1327.2L1505.3,1329.4L1506.8,1328.9L1508.4,1329.3L1509.9,1328.1L1511.4,1329.9L1512.9,1328.1L1514.4,1329.2L1516.0,1329.0L1517.5,1328.8L1519.0,1328.0L1520.5,1329.8L1522.1,1329.7L1523.6,1330.2L1525.1,1329.5L1526.6,1329.3L1528.2,1329.6L1529.7,1329.7L1531.2,1329.6L1532.7,1331.3L1534.3,1330.2L1535.8,1330.6L1537.3,1329.5L1538.8,1332.6L1540.4,1330.3L1541.9,1330.6L1543.4,1330.8L1544.9,1328.7L1546.5,1330.9L1548.0,1332.2L1549.5,1331.9L1551.0,1331.6L1552.5,1331.7L1554.1,1330.9L1555.6,1332.1L1557.1,1330.2L1558.6,1332.4L1560.2,1333.0L1561.7,1331.7L1563.2,1333.0L1564.7,1332.5L1566.3,1332.0L1567.8,1331.0L1569.3,1331.4L1570.8,1332.4L1572.4,1332.7L1573.9,1332.9L1575.4,1333.1L1576.9,1333.2L1578.5,1332.9L1580.0,1333.2L1581.5,1333.4L1583.0,1332.8L1584.6,1333.0L1586.1,1333.3L1587.6,1334.8L1589.1,1332.7L1590.6,1334.9L1592.2,1333.3L1593.7,1335.2L1595.2,1333.8L1596.7,1334.2L1598.3,1334.6L1599.8,1335.1L1601.3,1335.8L1602.8,1334.5L1604.4,1336.2L1605.9,1334.7L1607.4,1335.7L1608.9,1336.8L1610.5,1335.3L1612.0,1336.0L1613.5,1336.9L1615.0,1336.4L1616.6,1334.2L1618.1,1335.8L1619.6,1336.9L1621.1,1337.0L1622.7,1337.2L1624.2,1336.3L1625.7,1336.6L1627.2,1336.4L1628.7,1339.3L1630.3,1336.4L1631.8,1337.4L1633.3,1337.0L1634.8,1337.6L1636.4,1335.1L1637.9,1338.5L1639.4,1337.9L1640.9,1337.4L1642.5,1336.9L1644.0,1338.9L1645.5,1340.3L1647.0,1337.9L1648.6,1338.5L1650.1,1339.0L1651.6,1338.5L1653.1,1338.2L1654.7,1338.5L1656.2,1337.5L1657.7,1337.8L1659.2,1339.3L1660.8,1339.8L1662.3,1340.0L1663.8,1339.3L1665.3,1338.4L1666.8,1339.7L1668.4,1340.9L1669.9,1339.7L1671.4,1341.4L1672.9,1338.9L1674.5,1341.6L1676.0,1339.8L1677.5,1339.4L1679.0,1339.7L1680.6,1339.7L1682.1,1339.6L1683.6,1339.6L1685.1,1341.8L1686.7,1340.7L1688.2,1338.6L1689.7,1341.2L1691.2,1341.0L1692.8,1341.3L1694.3,1340.5L1695.8,1340.9L1697.3,1340.3L1698.9,1340.4L1700.4,1340.9L1701.9,1340.6L1703.4,1341.5L1704.9,1341.1L1706.5,1341.8L1708.0,1342.1L1709.5,1343.7L1711.0,1340.8L1712.6,1341.7L1714.1,1341.6L1715.6,1341.4L1717.1,1342.0L1718.7,1343.0L1720.2,1340.3L1721.7,1343.6L1723.2,1342.1L1724.8,1343.0L1726.3,1342.3L1727.8,1344.0L1729.3,1341.8L1730.9,1342.7L1732.4,1342.9L1733.9,1343.5L1735.4,1344.2L1737.0,1344.0L1738.5,1342.5L1740.0,1343.7L1741.5,1342.5L1743.0,1344.7L1744.6,1344.2L1746.1,1343.0L1747.6,1344.1L1749.1,1342.6L1750.7,1344.0L1752.2,1344.4L1753.7,1344.1L1755.2,1344.9L1756.8,1344.3L1758.3,1341.9L1759.8,1345.1L1761.3,1343.5L1762.9,1344.3L1764.4,1345.8L1765.9,1342.0L1767.4,1344.2L1769.0,1345.3L1770.5,1344.6L1772.0,1346.0L1773.5,1344.9L1775.1,1345.2L1776.6,1346.9L1778.1,1344.8L1779.6,1345.6L1781.1,1343.7L1782.7,1345.6L1784.2,1344.2L1785.7,1346.5L1787.2,1346.1L1788.8,1345.9L1790.3,1343.7L1791.8,1347.0L1793.3,1346.9L1794.9,1346.2L1796.4,1345.2L1797.9,1347.0L1799.4,1346.9L1801.0,1345.8L1802.5,1346.7L1804.0,1346.1L1805.5,1345.9L1807.1,1347.0L1808.6,1347.4L1810.1,1346.0L1811.6,1347.7L1813.2,1346.6L1814.7,1348.1L1816.2,1347.8L1817.7,1347.3L1819.2,1348.6L1820.8,1346.1L1822.3,1349.1L1823.8,1347.1L1825.3,1348.1L1826.9,1346.5L1828.4,1348.4L1829.9,1347.5L1831.4,1348.0L1833.0,1346.3L1834.5,1350.4L1836.0,1347.7L1837.5,1350.3L1839.1,1346.2L1840.6,1347.9L1842.1,1350.0L1843.6,1346.7L1845.2,1350.3L1846.7,1348.7L1848.2,1347.7L1849.7,1351.1L1851.3,1349.1L1852.8,1348.0L1854.3,1348.0L1855.8,1349.7L1857.3,1350.7L1858.9,1348.9L1860.4,1349.4L1861.9,1351.1L1863.4,1349.0L1865.0,1349.3L1866.5,1348.7L1868.0,1350.1L1869.5,1348.7L1871.1,1351.0L1872.6,1348.5L1874.1,1351.6L1875.6,1349.9L1877.2,1351.6L1878.7,1349.1L1880.2,1348.9L1881.7,1350.4L1883.3,1350.2L1884.8,1350.5L1886.3,1350.8L1887.8,1350.3L1889.4,1351.4L1890.9,1350.6L1892.4,1352.1L1893.9,1350.9L1895.4,1349.1L1897.0,1351.5L1898.5,1350.5L1900.0,1351.4L1901.5,1349.6L1903.1,1352.6L1904.6,1352.1L1906.1,1350.4L1907.6,1352.0L1909.2,1353.4L1910.7,1350.4L1912.2,1350.6L1913.7,1352.3L1915.3,1352.2L1916.8,1351.5L1918.3,1352.5L1919.8,1349.2L1921.4,1350.2L1922.9,1348.7L1924.4,1352.7L1925.9,1350.1L1927.5,1353.8L1929.0,1352.1L1930.5,1353.5L1932.0,1352.9L1933.5,1352.1L1935.1,1352.3L1936.6,1351.5L1938.1,1350.9L1939.6,1351.4L1941.2,1354.8L1942.7,1353.8L1944.2,1351.3L1945.7,1352.8L1947.3,1352.5L1948.8,1353.6L1950.3,1352.2L1951.8,1355.0L1953.4,1353.1L1954.9,1352.0L1956.4,1351.3L1957.9,1352.6L1959.5,1351.8L1961.0,1354.0L1962.5,1355.3L1964.0,1353.8L1965.6,1354.6L1967.1,1353.1L1968.6,1353.4L1970.1,1352.0L1971.6,1353.4L1973.2,1351.2L1974.7,1354.8L1976.2,1353.3L1977.7,1353.0L1979.3,1355.2L1980.8,1353.6L1982.3,1352.6L1983.8,1352.0L1985.4,1352.6L1986.9,1352.3L1988.4,1356.2L1989.9,1351.8L1991.5,1356.1L1993.0,1353.6L1994.5,1353.7L1996.0,1355.5L1997.6,1352.3L1999.1,1356.1L2000.6,1355.0L2002.1,1353.5L2003.7,1355.3L2005.2,1355.4L2006.7,1356.1L2008.2,1354.3L2009.7,1355.2L2011.3,1355.6L2012.8,1354.8L2014.3,1354.5L2015.8,1354.3L2017.4,1355.0L2018.9,1355.7L2020.4,1353.7L2021.9,1355.8L2023.5,1355.5L2025.0,1354.6L2026.5,1354.5L2028.0,1357.2L2029.6,1355.3L2031.1,1355.9L2032.6,1355.0L2034.1,1357.2L2035.7,1353.5L2037.2,1355.7L2038.7,1356.7" stroke="#b36ade"/>
</g>
<g class="tl">
<text x="212.5" y="1634" text-anchor="middle">200</text>
<text x="517.3" y="1634" text-anchor="middle">300</text>
<text x="822.2" y="1634" text-anchor="middle">400</text>
<text x="1127.0" y="1634" text-anchor="middle">500</text>
<text x="1431.8" y="1634" text-anchor="middle">600</text>
<text x="1736.6" y="1634" text-anchor="middle">700</text>
<text x="2041.5" y="1634" text-anchor="middle">800</text>
</g>
<text class="tt" x="1127.5" y="1753.5" text-anchor="middle">Wavelength (nm)</text>
<text class="tt" transform="translate(96.2,768) rotate(-90)" text-anchor="middle">Absorbance (a.u.)</text>
<g>
<rect x="1381" y="163.0" width="179" height="8" fill="#4f4f4f"/>
<text x="1577" y="193.5" class="lg">pure TiO<tspan class="sub" dx="-1" dy="19">2</tspan></text>
<rect x="1381" y="277.2" width="179" height="8" fill="#f34343"/>
<text x="1577" y="307.8" class="lg">1% Ag-TiO<tspan class="sub" dx="-1" dy="19">2</tspan></text>
<rect x="1381" y="391.5" width="179" height="8" fill="#1062de"/>
<text x="1577" y="422.0" class="lg">2% Ag-TiO<tspan class="sub" dx="-1" dy="19">2</tspan></text>
<rect x="1381" y="505.8" width="179" height="8" fill="#32ad62"/>
<text x="1577" y="536.2" class="lg">4% Ag-TiO<tspan class="sub" dx="-1" dy="19">2</tspan></text>
<rect x="1381" y="620.0" width="179" height="8" fill="#b36ade"/>
<text x="1577" y="650.5" class="lg">6% Ag-TiO<tspan class="sub" dx="-1" dy="19">2</tspan></text>
</g>
</svg>
</body></html>
